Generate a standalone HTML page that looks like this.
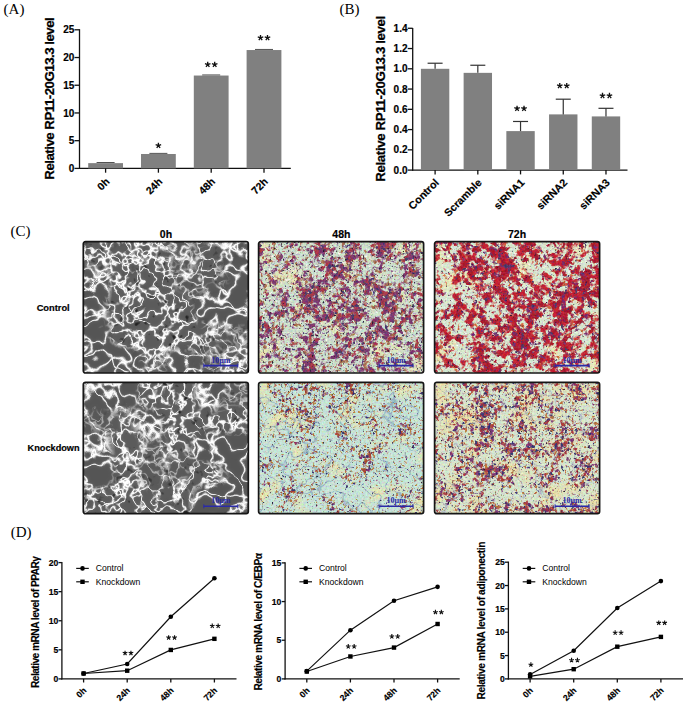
<!DOCTYPE html>
<html><head><meta charset="utf-8"><style>
html,body{margin:0;padding:0;background:#fff;}
svg{display:block;}
</style></head><body>
<svg width="685" height="706" viewBox="0 0 685 706">
<defs><filter id="f0" x="0" y="0" width="1" height="1" color-interpolation-filters="sRGB"><feGaussianBlur in="SourceGraphic" stdDeviation="7"/><feColorMatrix type="matrix" values="0 0 0 0 0  0 0 0 0 0  0 0 0 0 0  5 0 0 0 -2.0" result="mask"/><feTurbulence type="fractalNoise" baseFrequency="0.055" numOctaves="3" seed="7"/><feColorMatrix type="matrix" values="1 0 0 0 0  1 0 0 0 0  1 0 0 0 0  0 0 0 0 1"/><feComponentTransfer result="tA0"><feFuncR type="table" tableValues="0.38 0.38 0.38 0.38 0.38 0.38 0.38 0.38 0.38 0.38 0.38 0.38 0.38 0.38 0.38 0.38 0.38 0.38 0.38 0.38 0.38 0.38 0.38 0.38 0.38 0.38 0.38 0.38 0.38 0.38 0.38 0.38 0.38 0.38 0.379 0.379 0.378 0.376 0.374 0.37 0.365 0.358 0.35 0.345 0.353 0.388 0.47 0.611 0.786 0.939 1.0 0.939 0.786 0.611 0.47 0.388 0.353 0.345 0.35 0.358 0.365 0.37 0.374 0.376 0.378 0.379 0.379 0.38 0.38 0.38 0.38 0.38 0.38 0.38 0.38 0.38 0.38 0.38 0.38 0.38 0.38 0.38 0.38 0.38 0.38 0.38 0.38 0.38 0.38 0.38 0.38 0.38 0.38 0.38 0.38 0.38 0.38 0.38 0.38 0.38 0.38"/><feFuncG type="table" tableValues="0.38 0.38 0.38 0.38 0.38 0.38 0.38 0.38 0.38 0.38 0.38 0.38 0.38 0.38 0.38 0.38 0.38 0.38 0.38 0.38 0.38 0.38 0.38 0.38 0.38 0.38 0.38 0.38 0.38 0.38 0.38 0.38 0.38 0.38 0.379 0.379 0.378 0.376 0.374 0.37 0.365 0.358 0.35 0.345 0.353 0.388 0.47 0.611 0.786 0.939 1.0 0.939 0.786 0.611 0.47 0.388 0.353 0.345 0.35 0.358 0.365 0.37 0.374 0.376 0.378 0.379 0.379 0.38 0.38 0.38 0.38 0.38 0.38 0.38 0.38 0.38 0.38 0.38 0.38 0.38 0.38 0.38 0.38 0.38 0.38 0.38 0.38 0.38 0.38 0.38 0.38 0.38 0.38 0.38 0.38 0.38 0.38 0.38 0.38 0.38 0.38"/><feFuncB type="table" tableValues="0.38 0.38 0.38 0.38 0.38 0.38 0.38 0.38 0.38 0.38 0.38 0.38 0.38 0.38 0.38 0.38 0.38 0.38 0.38 0.38 0.38 0.38 0.38 0.38 0.38 0.38 0.38 0.38 0.38 0.38 0.38 0.38 0.38 0.38 0.379 0.379 0.378 0.376 0.374 0.37 0.365 0.358 0.35 0.345 0.353 0.388 0.47 0.611 0.786 0.939 1.0 0.939 0.786 0.611 0.47 0.388 0.353 0.345 0.35 0.358 0.365 0.37 0.374 0.376 0.378 0.379 0.379 0.38 0.38 0.38 0.38 0.38 0.38 0.38 0.38 0.38 0.38 0.38 0.38 0.38 0.38 0.38 0.38 0.38 0.38 0.38 0.38 0.38 0.38 0.38 0.38 0.38 0.38 0.38 0.38 0.38 0.38 0.38 0.38 0.38 0.38"/></feComponentTransfer><feTurbulence type="fractalNoise" baseFrequency="0.05" numOctaves="3" seed="9"/><feColorMatrix type="matrix" values="1 0 0 0 0  1 0 0 0 0  1 0 0 0 0  0 0 0 0 1"/><feComponentTransfer result="tA1"><feFuncR type="table" tableValues="0.38 0.38 0.38 0.38 0.38 0.38 0.38 0.38 0.38 0.38 0.38 0.38 0.38 0.38 0.38 0.38 0.38 0.38 0.38 0.38 0.38 0.38 0.38 0.38 0.38 0.38 0.38 0.38 0.38 0.38 0.38 0.38 0.38 0.38 0.379 0.379 0.378 0.376 0.374 0.37 0.365 0.358 0.35 0.345 0.353 0.388 0.47 0.611 0.786 0.939 1.0 0.939 0.786 0.611 0.47 0.388 0.353 0.345 0.35 0.358 0.365 0.37 0.374 0.376 0.378 0.379 0.379 0.38 0.38 0.38 0.38 0.38 0.38 0.38 0.38 0.38 0.38 0.38 0.38 0.38 0.38 0.38 0.38 0.38 0.38 0.38 0.38 0.38 0.38 0.38 0.38 0.38 0.38 0.38 0.38 0.38 0.38 0.38 0.38 0.38 0.38"/><feFuncG type="table" tableValues="0.38 0.38 0.38 0.38 0.38 0.38 0.38 0.38 0.38 0.38 0.38 0.38 0.38 0.38 0.38 0.38 0.38 0.38 0.38 0.38 0.38 0.38 0.38 0.38 0.38 0.38 0.38 0.38 0.38 0.38 0.38 0.38 0.38 0.38 0.379 0.379 0.378 0.376 0.374 0.37 0.365 0.358 0.35 0.345 0.353 0.388 0.47 0.611 0.786 0.939 1.0 0.939 0.786 0.611 0.47 0.388 0.353 0.345 0.35 0.358 0.365 0.37 0.374 0.376 0.378 0.379 0.379 0.38 0.38 0.38 0.38 0.38 0.38 0.38 0.38 0.38 0.38 0.38 0.38 0.38 0.38 0.38 0.38 0.38 0.38 0.38 0.38 0.38 0.38 0.38 0.38 0.38 0.38 0.38 0.38 0.38 0.38 0.38 0.38 0.38 0.38"/><feFuncB type="table" tableValues="0.38 0.38 0.38 0.38 0.38 0.38 0.38 0.38 0.38 0.38 0.38 0.38 0.38 0.38 0.38 0.38 0.38 0.38 0.38 0.38 0.38 0.38 0.38 0.38 0.38 0.38 0.38 0.38 0.38 0.38 0.38 0.38 0.38 0.38 0.379 0.379 0.378 0.376 0.374 0.37 0.365 0.358 0.35 0.345 0.353 0.388 0.47 0.611 0.786 0.939 1.0 0.939 0.786 0.611 0.47 0.388 0.353 0.345 0.35 0.358 0.365 0.37 0.374 0.376 0.378 0.379 0.379 0.38 0.38 0.38 0.38 0.38 0.38 0.38 0.38 0.38 0.38 0.38 0.38 0.38 0.38 0.38 0.38 0.38 0.38 0.38 0.38 0.38 0.38 0.38 0.38 0.38 0.38 0.38 0.38 0.38 0.38 0.38 0.38 0.38 0.38"/></feComponentTransfer><feBlend in="tA1" in2="tA0" mode="lighten" result="tA1"/><feMerge result="tA"><feMergeNode in="tA1"/></feMerge><feTurbulence type="fractalNoise" baseFrequency="0.035" numOctaves="3" seed="8"/><feColorMatrix type="matrix" values="1 0 0 0 0  1 0 0 0 0  1 0 0 0 0  0 0 0 0 1"/><feComponentTransfer result="tB0"><feFuncR type="table" tableValues="0.36 0.36 0.36 0.36 0.36 0.36 0.36 0.36 0.36 0.36 0.36 0.36 0.36 0.36 0.36 0.36 0.36 0.36 0.36 0.36 0.36 0.36 0.36 0.36 0.36 0.36 0.36 0.36 0.36 0.36 0.36 0.36 0.36 0.36 0.36 0.36 0.36 0.359 0.358 0.357 0.354 0.349 0.343 0.336 0.33 0.339 0.387 0.51 0.708 0.912 1.0 0.912 0.708 0.51 0.387 0.339 0.33 0.336 0.343 0.349 0.354 0.357 0.358 0.359 0.36 0.36 0.36 0.36 0.36 0.36 0.36 0.36 0.36 0.36 0.36 0.36 0.36 0.36 0.36 0.36 0.36 0.36 0.36 0.36 0.36 0.36 0.36 0.36 0.36 0.36 0.36 0.36 0.36 0.36 0.36 0.36 0.36 0.36 0.36 0.36 0.36"/><feFuncG type="table" tableValues="0.36 0.36 0.36 0.36 0.36 0.36 0.36 0.36 0.36 0.36 0.36 0.36 0.36 0.36 0.36 0.36 0.36 0.36 0.36 0.36 0.36 0.36 0.36 0.36 0.36 0.36 0.36 0.36 0.36 0.36 0.36 0.36 0.36 0.36 0.36 0.36 0.36 0.359 0.358 0.357 0.354 0.349 0.343 0.336 0.33 0.339 0.387 0.51 0.708 0.912 1.0 0.912 0.708 0.51 0.387 0.339 0.33 0.336 0.343 0.349 0.354 0.357 0.358 0.359 0.36 0.36 0.36 0.36 0.36 0.36 0.36 0.36 0.36 0.36 0.36 0.36 0.36 0.36 0.36 0.36 0.36 0.36 0.36 0.36 0.36 0.36 0.36 0.36 0.36 0.36 0.36 0.36 0.36 0.36 0.36 0.36 0.36 0.36 0.36 0.36 0.36"/><feFuncB type="table" tableValues="0.36 0.36 0.36 0.36 0.36 0.36 0.36 0.36 0.36 0.36 0.36 0.36 0.36 0.36 0.36 0.36 0.36 0.36 0.36 0.36 0.36 0.36 0.36 0.36 0.36 0.36 0.36 0.36 0.36 0.36 0.36 0.36 0.36 0.36 0.36 0.36 0.36 0.359 0.358 0.357 0.354 0.349 0.343 0.336 0.33 0.339 0.387 0.51 0.708 0.912 1.0 0.912 0.708 0.51 0.387 0.339 0.33 0.336 0.343 0.349 0.354 0.357 0.358 0.359 0.36 0.36 0.36 0.36 0.36 0.36 0.36 0.36 0.36 0.36 0.36 0.36 0.36 0.36 0.36 0.36 0.36 0.36 0.36 0.36 0.36 0.36 0.36 0.36 0.36 0.36 0.36 0.36 0.36 0.36 0.36 0.36 0.36 0.36 0.36 0.36 0.36"/></feComponentTransfer><feTurbulence type="fractalNoise" baseFrequency="0.03" numOctaves="3" seed="11"/><feColorMatrix type="matrix" values="1 0 0 0 0  1 0 0 0 0  1 0 0 0 0  0 0 0 0 1"/><feComponentTransfer result="tB1"><feFuncR type="table" tableValues="0.36 0.36 0.36 0.36 0.36 0.36 0.36 0.36 0.36 0.36 0.36 0.36 0.36 0.36 0.36 0.36 0.36 0.36 0.36 0.36 0.36 0.36 0.36 0.36 0.36 0.36 0.36 0.36 0.36 0.36 0.36 0.36 0.36 0.36 0.36 0.36 0.36 0.359 0.358 0.357 0.354 0.349 0.343 0.336 0.33 0.339 0.387 0.51 0.708 0.912 1.0 0.912 0.708 0.51 0.387 0.339 0.33 0.336 0.343 0.349 0.354 0.357 0.358 0.359 0.36 0.36 0.36 0.36 0.36 0.36 0.36 0.36 0.36 0.36 0.36 0.36 0.36 0.36 0.36 0.36 0.36 0.36 0.36 0.36 0.36 0.36 0.36 0.36 0.36 0.36 0.36 0.36 0.36 0.36 0.36 0.36 0.36 0.36 0.36 0.36 0.36"/><feFuncG type="table" tableValues="0.36 0.36 0.36 0.36 0.36 0.36 0.36 0.36 0.36 0.36 0.36 0.36 0.36 0.36 0.36 0.36 0.36 0.36 0.36 0.36 0.36 0.36 0.36 0.36 0.36 0.36 0.36 0.36 0.36 0.36 0.36 0.36 0.36 0.36 0.36 0.36 0.36 0.359 0.358 0.357 0.354 0.349 0.343 0.336 0.33 0.339 0.387 0.51 0.708 0.912 1.0 0.912 0.708 0.51 0.387 0.339 0.33 0.336 0.343 0.349 0.354 0.357 0.358 0.359 0.36 0.36 0.36 0.36 0.36 0.36 0.36 0.36 0.36 0.36 0.36 0.36 0.36 0.36 0.36 0.36 0.36 0.36 0.36 0.36 0.36 0.36 0.36 0.36 0.36 0.36 0.36 0.36 0.36 0.36 0.36 0.36 0.36 0.36 0.36 0.36 0.36"/><feFuncB type="table" tableValues="0.36 0.36 0.36 0.36 0.36 0.36 0.36 0.36 0.36 0.36 0.36 0.36 0.36 0.36 0.36 0.36 0.36 0.36 0.36 0.36 0.36 0.36 0.36 0.36 0.36 0.36 0.36 0.36 0.36 0.36 0.36 0.36 0.36 0.36 0.36 0.36 0.36 0.359 0.358 0.357 0.354 0.349 0.343 0.336 0.33 0.339 0.387 0.51 0.708 0.912 1.0 0.912 0.708 0.51 0.387 0.339 0.33 0.336 0.343 0.349 0.354 0.357 0.358 0.359 0.36 0.36 0.36 0.36 0.36 0.36 0.36 0.36 0.36 0.36 0.36 0.36 0.36 0.36 0.36 0.36 0.36 0.36 0.36 0.36 0.36 0.36 0.36 0.36 0.36 0.36 0.36 0.36 0.36 0.36 0.36 0.36 0.36 0.36 0.36 0.36 0.36"/></feComponentTransfer><feBlend in="tB1" in2="tB0" mode="lighten" result="tB1"/><feMerge result="tB"><feMergeNode in="tB1"/></feMerge><feComposite in="tA" in2="mask" operator="in" result="tAm"/><feTurbulence type="fractalNoise" baseFrequency="0.14" numOctaves="2" seed="77"/><feColorMatrix type="matrix" values="0 0 0 0 0.15  0 0 0 0 0.15  0 0 0 0 0.15  6 0 0 0 -3.96"/><feComposite in2="mask" operator="in" result="dk"/><feMerge result="mix"><feMergeNode in="tB"/><feMergeNode in="tAm"/><feMergeNode in="dk"/></feMerge><feGaussianBlur in="mix" stdDeviation="1.5" result="gl"/><feComposite in="mix" in2="gl" operator="arithmetic" k2="0.9" k3="0.22" k4="-0.065" result="mix"/><feGaussianBlur stdDeviation="0.45"/></filter><filter id="f1" x="0" y="0" width="1" height="1" color-interpolation-filters="sRGB"><feGaussianBlur in="SourceGraphic" stdDeviation="9"/><feColorMatrix type="matrix" values="1 0 0 0 0  1 0 0 0 0  1 0 0 0 0  0 0 0 0 1" result="sg"/><feTurbulence type="fractalNoise" baseFrequency="0.05" numOctaves="2" seed="21"/><feColorMatrix type="matrix" values="1 0 0 0 0  1 0 0 0 0  1 0 0 0 0  0 0 0 0 1" result="dn"/><feComposite in="sg" in2="dn" operator="arithmetic" k2="0.5" k3="0.6" k4="-0.050" result="dens"/><feFlood flood-color="#cce0cc" result="bg"/><feTurbulence type="fractalNoise" baseFrequency="0.04" numOctaves="2" seed="11"/><feColorMatrix type="matrix" values="0 0 0 0 0.902  0 0 0 0 0.894  0 0 0 0 0.69  4 0 0 0 -2.2" result="yel"/><feTurbulence type="fractalNoise" baseFrequency="0.3" numOctaves="2" seed="5"/><feColorMatrix type="matrix" values="1 0 0 0 0  1 0 0 0 0  1 0 0 0 0  0 0 0 0 1" result="c0n"/><feColorMatrix in="c0n" type="matrix" values="0 0 0 0 0.949  0 0 0 0 0.941  0 0 0 0 0.918  8 0 0 0 -5.12" result="c0"/><feTurbulence type="fractalNoise" baseFrequency="0.35" numOctaves="2" seed="8"/><feColorMatrix type="matrix" values="1 0 0 0 0  1 0 0 0 0  1 0 0 0 0  0 0 0 0 1" result="c1n"/><feColorMatrix in="c1n" type="matrix" values="0 0 0 0 0.753  0 0 0 0 0.659  0 0 0 0 0.769  8 0 0 0 -4.96" result="c1"/><feTurbulence type="fractalNoise" baseFrequency="0.22" numOctaves="2" seed="4"/><feColorMatrix type="matrix" values="1 0 0 0 0  1 0 0 0 0  1 0 0 0 0  0 0 0 0 1" result="c2n"/><feComposite in="c2n" in2="dens" operator="arithmetic" k2="1" k3="0.5" k4="-0.25" result="c2m"/><feColorMatrix in="c2m" type="matrix" values="0 0 0 0 0.659  0 0 0 0 0.439  0 0 0 0 0.314  8 0 0 0 -4.6" result="c2"/><feTurbulence type="fractalNoise" baseFrequency="0.16" numOctaves="3" seed="1"/><feColorMatrix type="matrix" values="1 0 0 0 0  1 0 0 0 0  1 0 0 0 0  0 0 0 0 1" result="c3n"/><feComposite in="c3n" in2="dens" operator="arithmetic" k2="1" k3="0.9" k4="-0.45" result="c3m"/><feColorMatrix in="c3m" type="matrix" values="0 0 0 0 0.494  0 0 0 0 0.227  0 0 0 0 0.439  7 0 0 0 -3.7800000000000002" result="c3"/><feTurbulence type="fractalNoise" baseFrequency="0.18" numOctaves="3" seed="2"/><feColorMatrix type="matrix" values="1 0 0 0 0  1 0 0 0 0  1 0 0 0 0  0 0 0 0 1" result="c4n"/><feComposite in="c4n" in2="dens" operator="arithmetic" k2="1" k3="0.9" k4="-0.45" result="c4m"/><feColorMatrix in="c4m" type="matrix" values="0 0 0 0 0.659  0 0 0 0 0.227  0 0 0 0 0.29  7 0 0 0 -4.165" result="c4"/><feTurbulence type="fractalNoise" baseFrequency="0.3" numOctaves="2" seed="3"/><feColorMatrix type="matrix" values="1 0 0 0 0  1 0 0 0 0  1 0 0 0 0  0 0 0 0 1" result="c5n"/><feComposite in="c5n" in2="dens" operator="arithmetic" k2="1" k3="0.6" k4="-0.3" result="c5m"/><feColorMatrix in="c5m" type="matrix" values="0 0 0 0 0.29  0 0 0 0 0.243  0 0 0 0 0.424  8 0 0 0 -5.2" result="c5"/><feTurbulence type="fractalNoise" baseFrequency="0.45" numOctaves="1" seed="7"/><feColorMatrix type="matrix" values="1 0 0 0 0  1 0 0 0 0  1 0 0 0 0  0 0 0 0 1" result="c6n"/><feColorMatrix in="c6n" type="matrix" values="0 0 0 0 0.165  0 0 0 0 0.102  0 0 0 0 0.188  8 0 0 0 -5.12" result="c6"/><feMerge result="img"><feMergeNode in="bg"/><feMergeNode in="yel"/><feMergeNode in="c0"/><feMergeNode in="c1"/><feMergeNode in="c2"/><feMergeNode in="c3"/><feMergeNode in="c4"/><feMergeNode in="c5"/><feMergeNode in="c6"/></feMerge><feTurbulence type="fractalNoise" baseFrequency="0.55" numOctaves="1" seed="28"/><feColorMatrix type="matrix" values="1 0 0 0 0  0 1 0 0 0  0 0 1 0 0  0 0 0 0 1" result="cn"/><feComposite in="img" in2="cn" operator="arithmetic" k2="1" k3="0.3" k4="-0.15"/><feGaussianBlur stdDeviation="0.7"/></filter><filter id="f2" x="0" y="0" width="1" height="1" color-interpolation-filters="sRGB"><feGaussianBlur in="SourceGraphic" stdDeviation="9"/><feColorMatrix type="matrix" values="1 0 0 0 0  1 0 0 0 0  1 0 0 0 0  0 0 0 0 1" result="sg"/><feTurbulence type="fractalNoise" baseFrequency="0.05" numOctaves="2" seed="31"/><feColorMatrix type="matrix" values="1 0 0 0 0  1 0 0 0 0  1 0 0 0 0  0 0 0 0 1" result="dn"/><feComposite in="sg" in2="dn" operator="arithmetic" k2="0.5" k3="0.6" k4="-0.050" result="dens"/><feFlood flood-color="#d6e6d0" result="bg"/><feTurbulence type="fractalNoise" baseFrequency="0.04" numOctaves="2" seed="11"/><feColorMatrix type="matrix" values="0 0 0 0 0.918  0 0 0 0 0.902  0 0 0 0 0.69  4 0 0 0 -2.2" result="yel"/><feTurbulence type="fractalNoise" baseFrequency="0.3" numOctaves="2" seed="5"/><feColorMatrix type="matrix" values="1 0 0 0 0  1 0 0 0 0  1 0 0 0 0  0 0 0 0 1" result="c0n"/><feColorMatrix in="c0n" type="matrix" values="0 0 0 0 0.949  0 0 0 0 0.941  0 0 0 0 0.918  8 0 0 0 -5.12" result="c0"/><feTurbulence type="fractalNoise" baseFrequency="0.22" numOctaves="2" seed="4"/><feColorMatrix type="matrix" values="1 0 0 0 0  1 0 0 0 0  1 0 0 0 0  0 0 0 0 1" result="c1n"/><feComposite in="c1n" in2="dens" operator="arithmetic" k2="1" k3="0.5" k4="-0.25" result="c1m"/><feColorMatrix in="c1m" type="matrix" values="0 0 0 0 0.816  0 0 0 0 0.416  0 0 0 0 0.267  8 0 0 0 -4.8" result="c1"/><feTurbulence type="fractalNoise" baseFrequency="0.12" numOctaves="3" seed="1"/><feColorMatrix type="matrix" values="1 0 0 0 0  1 0 0 0 0  1 0 0 0 0  0 0 0 0 1" result="c2n"/><feComposite in="c2n" in2="dens" operator="arithmetic" k2="1" k3="1.0" k4="-0.5" result="c2m"/><feColorMatrix in="c2m" type="matrix" values="0 0 0 0 0.769  0 0 0 0 0.141  0 0 0 0 0.204  7 0 0 0 -3.64" result="c2"/><feTurbulence type="fractalNoise" baseFrequency="0.18" numOctaves="3" seed="2"/><feColorMatrix type="matrix" values="1 0 0 0 0  1 0 0 0 0  1 0 0 0 0  0 0 0 0 1" result="c3n"/><feComposite in="c3n" in2="dens" operator="arithmetic" k2="1" k3="0.9" k4="-0.45" result="c3m"/><feColorMatrix in="c3m" type="matrix" values="0 0 0 0 0.659  0 0 0 0 0.11  0 0 0 0 0.188  7 0 0 0 -3.8500000000000005" result="c3"/><feTurbulence type="fractalNoise" baseFrequency="0.22" numOctaves="3" seed="6"/><feColorMatrix type="matrix" values="1 0 0 0 0  1 0 0 0 0  1 0 0 0 0  0 0 0 0 1" result="c4n"/><feComposite in="c4n" in2="dens" operator="arithmetic" k2="1" k3="0.6" k4="-0.3" result="c4m"/><feColorMatrix in="c4m" type="matrix" values="0 0 0 0 0.478  0 0 0 0 0.188  0 0 0 0 0.439  7 0 0 0 -4.48" result="c4"/><feTurbulence type="fractalNoise" baseFrequency="0.3" numOctaves="2" seed="3"/><feColorMatrix type="matrix" values="1 0 0 0 0  1 0 0 0 0  1 0 0 0 0  0 0 0 0 1" result="c5n"/><feComposite in="c5n" in2="dens" operator="arithmetic" k2="1" k3="0.5" k4="-0.25" result="c5m"/><feColorMatrix in="c5m" type="matrix" values="0 0 0 0 0.29  0 0 0 0 0.227  0 0 0 0 0.416  8 0 0 0 -5.44" result="c5"/><feTurbulence type="fractalNoise" baseFrequency="0.45" numOctaves="1" seed="7"/><feColorMatrix type="matrix" values="1 0 0 0 0  1 0 0 0 0  1 0 0 0 0  0 0 0 0 1" result="c6n"/><feColorMatrix in="c6n" type="matrix" values="0 0 0 0 0.165  0 0 0 0 0.102  0 0 0 0 0.188  8 0 0 0 -5.36" result="c6"/><feMerge result="img"><feMergeNode in="bg"/><feMergeNode in="yel"/><feMergeNode in="c0"/><feMergeNode in="c1"/><feMergeNode in="c2"/><feMergeNode in="c3"/><feMergeNode in="c4"/><feMergeNode in="c5"/><feMergeNode in="c6"/></feMerge><feTurbulence type="fractalNoise" baseFrequency="0.55" numOctaves="1" seed="38"/><feColorMatrix type="matrix" values="1 0 0 0 0  0 1 0 0 0  0 0 1 0 0  0 0 0 0 1" result="cn"/><feComposite in="img" in2="cn" operator="arithmetic" k2="1" k3="0.3" k4="-0.15"/><feGaussianBlur stdDeviation="0.7"/></filter><filter id="f3" x="0" y="0" width="1" height="1" color-interpolation-filters="sRGB"><feGaussianBlur in="SourceGraphic" stdDeviation="7"/><feColorMatrix type="matrix" values="0 0 0 0 0  0 0 0 0 0  0 0 0 0 0  5 0 0 0 -2.0" result="mask"/><feTurbulence type="fractalNoise" baseFrequency="0.055" numOctaves="3" seed="19"/><feColorMatrix type="matrix" values="1 0 0 0 0  1 0 0 0 0  1 0 0 0 0  0 0 0 0 1"/><feComponentTransfer result="tA0"><feFuncR type="table" tableValues="0.38 0.38 0.38 0.38 0.38 0.38 0.38 0.38 0.38 0.38 0.38 0.38 0.38 0.38 0.38 0.38 0.38 0.38 0.38 0.38 0.38 0.38 0.38 0.38 0.38 0.38 0.38 0.38 0.38 0.38 0.38 0.38 0.38 0.38 0.379 0.379 0.378 0.376 0.374 0.37 0.365 0.358 0.35 0.345 0.353 0.388 0.47 0.611 0.786 0.939 1.0 0.939 0.786 0.611 0.47 0.388 0.353 0.345 0.35 0.358 0.365 0.37 0.374 0.376 0.378 0.379 0.379 0.38 0.38 0.38 0.38 0.38 0.38 0.38 0.38 0.38 0.38 0.38 0.38 0.38 0.38 0.38 0.38 0.38 0.38 0.38 0.38 0.38 0.38 0.38 0.38 0.38 0.38 0.38 0.38 0.38 0.38 0.38 0.38 0.38 0.38"/><feFuncG type="table" tableValues="0.38 0.38 0.38 0.38 0.38 0.38 0.38 0.38 0.38 0.38 0.38 0.38 0.38 0.38 0.38 0.38 0.38 0.38 0.38 0.38 0.38 0.38 0.38 0.38 0.38 0.38 0.38 0.38 0.38 0.38 0.38 0.38 0.38 0.38 0.379 0.379 0.378 0.376 0.374 0.37 0.365 0.358 0.35 0.345 0.353 0.388 0.47 0.611 0.786 0.939 1.0 0.939 0.786 0.611 0.47 0.388 0.353 0.345 0.35 0.358 0.365 0.37 0.374 0.376 0.378 0.379 0.379 0.38 0.38 0.38 0.38 0.38 0.38 0.38 0.38 0.38 0.38 0.38 0.38 0.38 0.38 0.38 0.38 0.38 0.38 0.38 0.38 0.38 0.38 0.38 0.38 0.38 0.38 0.38 0.38 0.38 0.38 0.38 0.38 0.38 0.38"/><feFuncB type="table" tableValues="0.38 0.38 0.38 0.38 0.38 0.38 0.38 0.38 0.38 0.38 0.38 0.38 0.38 0.38 0.38 0.38 0.38 0.38 0.38 0.38 0.38 0.38 0.38 0.38 0.38 0.38 0.38 0.38 0.38 0.38 0.38 0.38 0.38 0.38 0.379 0.379 0.378 0.376 0.374 0.37 0.365 0.358 0.35 0.345 0.353 0.388 0.47 0.611 0.786 0.939 1.0 0.939 0.786 0.611 0.47 0.388 0.353 0.345 0.35 0.358 0.365 0.37 0.374 0.376 0.378 0.379 0.379 0.38 0.38 0.38 0.38 0.38 0.38 0.38 0.38 0.38 0.38 0.38 0.38 0.38 0.38 0.38 0.38 0.38 0.38 0.38 0.38 0.38 0.38 0.38 0.38 0.38 0.38 0.38 0.38 0.38 0.38 0.38 0.38 0.38 0.38"/></feComponentTransfer><feTurbulence type="fractalNoise" baseFrequency="0.05" numOctaves="3" seed="21"/><feColorMatrix type="matrix" values="1 0 0 0 0  1 0 0 0 0  1 0 0 0 0  0 0 0 0 1"/><feComponentTransfer result="tA1"><feFuncR type="table" tableValues="0.38 0.38 0.38 0.38 0.38 0.38 0.38 0.38 0.38 0.38 0.38 0.38 0.38 0.38 0.38 0.38 0.38 0.38 0.38 0.38 0.38 0.38 0.38 0.38 0.38 0.38 0.38 0.38 0.38 0.38 0.38 0.38 0.38 0.38 0.379 0.379 0.378 0.376 0.374 0.37 0.365 0.358 0.35 0.345 0.353 0.388 0.47 0.611 0.786 0.939 1.0 0.939 0.786 0.611 0.47 0.388 0.353 0.345 0.35 0.358 0.365 0.37 0.374 0.376 0.378 0.379 0.379 0.38 0.38 0.38 0.38 0.38 0.38 0.38 0.38 0.38 0.38 0.38 0.38 0.38 0.38 0.38 0.38 0.38 0.38 0.38 0.38 0.38 0.38 0.38 0.38 0.38 0.38 0.38 0.38 0.38 0.38 0.38 0.38 0.38 0.38"/><feFuncG type="table" tableValues="0.38 0.38 0.38 0.38 0.38 0.38 0.38 0.38 0.38 0.38 0.38 0.38 0.38 0.38 0.38 0.38 0.38 0.38 0.38 0.38 0.38 0.38 0.38 0.38 0.38 0.38 0.38 0.38 0.38 0.38 0.38 0.38 0.38 0.38 0.379 0.379 0.378 0.376 0.374 0.37 0.365 0.358 0.35 0.345 0.353 0.388 0.47 0.611 0.786 0.939 1.0 0.939 0.786 0.611 0.47 0.388 0.353 0.345 0.35 0.358 0.365 0.37 0.374 0.376 0.378 0.379 0.379 0.38 0.38 0.38 0.38 0.38 0.38 0.38 0.38 0.38 0.38 0.38 0.38 0.38 0.38 0.38 0.38 0.38 0.38 0.38 0.38 0.38 0.38 0.38 0.38 0.38 0.38 0.38 0.38 0.38 0.38 0.38 0.38 0.38 0.38"/><feFuncB type="table" tableValues="0.38 0.38 0.38 0.38 0.38 0.38 0.38 0.38 0.38 0.38 0.38 0.38 0.38 0.38 0.38 0.38 0.38 0.38 0.38 0.38 0.38 0.38 0.38 0.38 0.38 0.38 0.38 0.38 0.38 0.38 0.38 0.38 0.38 0.38 0.379 0.379 0.378 0.376 0.374 0.37 0.365 0.358 0.35 0.345 0.353 0.388 0.47 0.611 0.786 0.939 1.0 0.939 0.786 0.611 0.47 0.388 0.353 0.345 0.35 0.358 0.365 0.37 0.374 0.376 0.378 0.379 0.379 0.38 0.38 0.38 0.38 0.38 0.38 0.38 0.38 0.38 0.38 0.38 0.38 0.38 0.38 0.38 0.38 0.38 0.38 0.38 0.38 0.38 0.38 0.38 0.38 0.38 0.38 0.38 0.38 0.38 0.38 0.38 0.38 0.38 0.38"/></feComponentTransfer><feBlend in="tA1" in2="tA0" mode="lighten" result="tA1"/><feMerge result="tA"><feMergeNode in="tA1"/></feMerge><feTurbulence type="fractalNoise" baseFrequency="0.035" numOctaves="3" seed="20"/><feColorMatrix type="matrix" values="1 0 0 0 0  1 0 0 0 0  1 0 0 0 0  0 0 0 0 1"/><feComponentTransfer result="tB0"><feFuncR type="table" tableValues="0.36 0.36 0.36 0.36 0.36 0.36 0.36 0.36 0.36 0.36 0.36 0.36 0.36 0.36 0.36 0.36 0.36 0.36 0.36 0.36 0.36 0.36 0.36 0.36 0.36 0.36 0.36 0.36 0.36 0.36 0.36 0.36 0.36 0.36 0.36 0.36 0.36 0.359 0.358 0.357 0.354 0.349 0.343 0.336 0.33 0.339 0.387 0.51 0.708 0.912 1.0 0.912 0.708 0.51 0.387 0.339 0.33 0.336 0.343 0.349 0.354 0.357 0.358 0.359 0.36 0.36 0.36 0.36 0.36 0.36 0.36 0.36 0.36 0.36 0.36 0.36 0.36 0.36 0.36 0.36 0.36 0.36 0.36 0.36 0.36 0.36 0.36 0.36 0.36 0.36 0.36 0.36 0.36 0.36 0.36 0.36 0.36 0.36 0.36 0.36 0.36"/><feFuncG type="table" tableValues="0.36 0.36 0.36 0.36 0.36 0.36 0.36 0.36 0.36 0.36 0.36 0.36 0.36 0.36 0.36 0.36 0.36 0.36 0.36 0.36 0.36 0.36 0.36 0.36 0.36 0.36 0.36 0.36 0.36 0.36 0.36 0.36 0.36 0.36 0.36 0.36 0.36 0.359 0.358 0.357 0.354 0.349 0.343 0.336 0.33 0.339 0.387 0.51 0.708 0.912 1.0 0.912 0.708 0.51 0.387 0.339 0.33 0.336 0.343 0.349 0.354 0.357 0.358 0.359 0.36 0.36 0.36 0.36 0.36 0.36 0.36 0.36 0.36 0.36 0.36 0.36 0.36 0.36 0.36 0.36 0.36 0.36 0.36 0.36 0.36 0.36 0.36 0.36 0.36 0.36 0.36 0.36 0.36 0.36 0.36 0.36 0.36 0.36 0.36 0.36 0.36"/><feFuncB type="table" tableValues="0.36 0.36 0.36 0.36 0.36 0.36 0.36 0.36 0.36 0.36 0.36 0.36 0.36 0.36 0.36 0.36 0.36 0.36 0.36 0.36 0.36 0.36 0.36 0.36 0.36 0.36 0.36 0.36 0.36 0.36 0.36 0.36 0.36 0.36 0.36 0.36 0.36 0.359 0.358 0.357 0.354 0.349 0.343 0.336 0.33 0.339 0.387 0.51 0.708 0.912 1.0 0.912 0.708 0.51 0.387 0.339 0.33 0.336 0.343 0.349 0.354 0.357 0.358 0.359 0.36 0.36 0.36 0.36 0.36 0.36 0.36 0.36 0.36 0.36 0.36 0.36 0.36 0.36 0.36 0.36 0.36 0.36 0.36 0.36 0.36 0.36 0.36 0.36 0.36 0.36 0.36 0.36 0.36 0.36 0.36 0.36 0.36 0.36 0.36 0.36 0.36"/></feComponentTransfer><feTurbulence type="fractalNoise" baseFrequency="0.03" numOctaves="3" seed="23"/><feColorMatrix type="matrix" values="1 0 0 0 0  1 0 0 0 0  1 0 0 0 0  0 0 0 0 1"/><feComponentTransfer result="tB1"><feFuncR type="table" tableValues="0.36 0.36 0.36 0.36 0.36 0.36 0.36 0.36 0.36 0.36 0.36 0.36 0.36 0.36 0.36 0.36 0.36 0.36 0.36 0.36 0.36 0.36 0.36 0.36 0.36 0.36 0.36 0.36 0.36 0.36 0.36 0.36 0.36 0.36 0.36 0.36 0.36 0.359 0.358 0.357 0.354 0.349 0.343 0.336 0.33 0.339 0.387 0.51 0.708 0.912 1.0 0.912 0.708 0.51 0.387 0.339 0.33 0.336 0.343 0.349 0.354 0.357 0.358 0.359 0.36 0.36 0.36 0.36 0.36 0.36 0.36 0.36 0.36 0.36 0.36 0.36 0.36 0.36 0.36 0.36 0.36 0.36 0.36 0.36 0.36 0.36 0.36 0.36 0.36 0.36 0.36 0.36 0.36 0.36 0.36 0.36 0.36 0.36 0.36 0.36 0.36"/><feFuncG type="table" tableValues="0.36 0.36 0.36 0.36 0.36 0.36 0.36 0.36 0.36 0.36 0.36 0.36 0.36 0.36 0.36 0.36 0.36 0.36 0.36 0.36 0.36 0.36 0.36 0.36 0.36 0.36 0.36 0.36 0.36 0.36 0.36 0.36 0.36 0.36 0.36 0.36 0.36 0.359 0.358 0.357 0.354 0.349 0.343 0.336 0.33 0.339 0.387 0.51 0.708 0.912 1.0 0.912 0.708 0.51 0.387 0.339 0.33 0.336 0.343 0.349 0.354 0.357 0.358 0.359 0.36 0.36 0.36 0.36 0.36 0.36 0.36 0.36 0.36 0.36 0.36 0.36 0.36 0.36 0.36 0.36 0.36 0.36 0.36 0.36 0.36 0.36 0.36 0.36 0.36 0.36 0.36 0.36 0.36 0.36 0.36 0.36 0.36 0.36 0.36 0.36 0.36"/><feFuncB type="table" tableValues="0.36 0.36 0.36 0.36 0.36 0.36 0.36 0.36 0.36 0.36 0.36 0.36 0.36 0.36 0.36 0.36 0.36 0.36 0.36 0.36 0.36 0.36 0.36 0.36 0.36 0.36 0.36 0.36 0.36 0.36 0.36 0.36 0.36 0.36 0.36 0.36 0.36 0.359 0.358 0.357 0.354 0.349 0.343 0.336 0.33 0.339 0.387 0.51 0.708 0.912 1.0 0.912 0.708 0.51 0.387 0.339 0.33 0.336 0.343 0.349 0.354 0.357 0.358 0.359 0.36 0.36 0.36 0.36 0.36 0.36 0.36 0.36 0.36 0.36 0.36 0.36 0.36 0.36 0.36 0.36 0.36 0.36 0.36 0.36 0.36 0.36 0.36 0.36 0.36 0.36 0.36 0.36 0.36 0.36 0.36 0.36 0.36 0.36 0.36 0.36 0.36"/></feComponentTransfer><feBlend in="tB1" in2="tB0" mode="lighten" result="tB1"/><feMerge result="tB"><feMergeNode in="tB1"/></feMerge><feComposite in="tA" in2="mask" operator="in" result="tAm"/><feTurbulence type="fractalNoise" baseFrequency="0.14" numOctaves="2" seed="78"/><feColorMatrix type="matrix" values="0 0 0 0 0.15  0 0 0 0 0.15  0 0 0 0 0.15  6 0 0 0 -3.96"/><feComposite in2="mask" operator="in" result="dk"/><feMerge result="mix"><feMergeNode in="tB"/><feMergeNode in="tAm"/><feMergeNode in="dk"/></feMerge><feGaussianBlur in="mix" stdDeviation="1.5" result="gl"/><feComposite in="mix" in2="gl" operator="arithmetic" k2="0.9" k3="0.22" k4="-0.065" result="mix"/><feGaussianBlur stdDeviation="0.45"/></filter><filter id="f4" x="0" y="0" width="1" height="1" color-interpolation-filters="sRGB"><feGaussianBlur in="SourceGraphic" stdDeviation="9"/><feColorMatrix type="matrix" values="1 0 0 0 0  1 0 0 0 0  1 0 0 0 0  0 0 0 0 1" result="sg"/><feTurbulence type="fractalNoise" baseFrequency="0.05" numOctaves="2" seed="41"/><feColorMatrix type="matrix" values="1 0 0 0 0  1 0 0 0 0  1 0 0 0 0  0 0 0 0 1" result="dn"/><feComposite in="sg" in2="dn" operator="arithmetic" k2="0.5" k3="0.6" k4="-0.050" result="dens"/><feFlood flood-color="#c6e2d6" result="bg"/><feTurbulence type="fractalNoise" baseFrequency="0.04" numOctaves="2" seed="11"/><feColorMatrix type="matrix" values="0 0 0 0 0.902  0 0 0 0 0.894  0 0 0 0 0.69  4 0 0 0 -2.2" result="yel"/><feTurbulence type="fractalNoise" baseFrequency="0.035" numOctaves="3" seed="61"/><feColorMatrix type="matrix" values="0 0 0 0 0.478  0 0 0 0 0.596  0 0 0 0 0.722  1 0 0 0 0"/><feComponentTransfer result="net"><feFuncA type="table" tableValues="0.0 0.0 0.0 0.0 0.0 0.0 0.0 0.0 0.0 0.0 0.0 0.0 0.0 0.0 0.0 0.0 0.0 0.0 0.0 0.0 0.0 0.0 0.0 0.0 0.0 0.0 0.0 0.0 0.0 0.0 0.0 0.0 0.0 0.0 0.0 0.0 0.0 0.0 0.0 0.0 0.0 0.0 0.0 0.0 0.0 0.0 0.0 0.001 0.043 0.349 0.7 0.349 0.043 0.001 0.0 0.0 0.0 0.0 0.0 0.0 0.0 0.0 0.0 0.0 0.0 0.0 0.0 0.0 0.0 0.0 0.0 0.0 0.0 0.0 0.0 0.0 0.0 0.0 0.0 0.0 0.0 0.0 0.0 0.0 0.0 0.0 0.0 0.0 0.0 0.0 0.0 0.0 0.0 0.0 0.0 0.0 0.0 0.0 0.0 0.0 0.0"/></feComponentTransfer><feTurbulence type="fractalNoise" baseFrequency="0.35" numOctaves="2" seed="4"/><feColorMatrix type="matrix" values="1 0 0 0 0  1 0 0 0 0  1 0 0 0 0  0 0 0 0 1" result="c0n"/><feComposite in="c0n" in2="dens" operator="arithmetic" k2="1" k3="0.6" k4="-0.3" result="c0m"/><feColorMatrix in="c0m" type="matrix" values="0 0 0 0 0.722  0 0 0 0 0.502  0 0 0 0 0.251  8 0 0 0 -4.96" result="c0"/><feTurbulence type="fractalNoise" baseFrequency="0.22" numOctaves="3" seed="1"/><feColorMatrix type="matrix" values="1 0 0 0 0  1 0 0 0 0  1 0 0 0 0  0 0 0 0 1" result="c1n"/><feComposite in="c1n" in2="dens" operator="arithmetic" k2="1" k3="0.8" k4="-0.4" result="c1m"/><feColorMatrix in="c1m" type="matrix" values="0 0 0 0 0.494  0 0 0 0 0.227  0 0 0 0 0.455  7 0 0 0 -4.7250000000000005" result="c1"/><feTurbulence type="fractalNoise" baseFrequency="0.22" numOctaves="3" seed="2"/><feColorMatrix type="matrix" values="1 0 0 0 0  1 0 0 0 0  1 0 0 0 0  0 0 0 0 1" result="c2n"/><feComposite in="c2n" in2="dens" operator="arithmetic" k2="1" k3="0.8" k4="-0.4" result="c2m"/><feColorMatrix in="c2m" type="matrix" values="0 0 0 0 0.659  0 0 0 0 0.282  0 0 0 0 0.22  7 0 0 0 -4.7250000000000005" result="c2"/><feTurbulence type="fractalNoise" baseFrequency="0.3" numOctaves="2" seed="3"/><feColorMatrix type="matrix" values="1 0 0 0 0  1 0 0 0 0  1 0 0 0 0  0 0 0 0 1" result="c3n"/><feComposite in="c3n" in2="dens" operator="arithmetic" k2="1" k3="0.5" k4="-0.25" result="c3m"/><feColorMatrix in="c3m" type="matrix" values="0 0 0 0 0.235  0 0 0 0 0.227  0 0 0 0 0.447  8 0 0 0 -5.4" result="c3"/><feTurbulence type="fractalNoise" baseFrequency="0.45" numOctaves="1" seed="7"/><feColorMatrix type="matrix" values="1 0 0 0 0  1 0 0 0 0  1 0 0 0 0  0 0 0 0 1" result="c4n"/><feColorMatrix in="c4n" type="matrix" values="0 0 0 0 0.165  0 0 0 0 0.102  0 0 0 0 0.188  8 0 0 0 -5.32" result="c4"/><feMerge result="img"><feMergeNode in="bg"/><feMergeNode in="yel"/><feMergeNode in="net"/><feMergeNode in="c0"/><feMergeNode in="c1"/><feMergeNode in="c2"/><feMergeNode in="c3"/><feMergeNode in="c4"/></feMerge><feTurbulence type="fractalNoise" baseFrequency="0.55" numOctaves="1" seed="48"/><feColorMatrix type="matrix" values="1 0 0 0 0  0 1 0 0 0  0 0 1 0 0  0 0 0 0 1" result="cn"/><feComposite in="img" in2="cn" operator="arithmetic" k2="1" k3="0.3" k4="-0.15"/><feGaussianBlur stdDeviation="0.7"/></filter><filter id="f5" x="0" y="0" width="1" height="1" color-interpolation-filters="sRGB"><feGaussianBlur in="SourceGraphic" stdDeviation="9"/><feColorMatrix type="matrix" values="1 0 0 0 0  1 0 0 0 0  1 0 0 0 0  0 0 0 0 1" result="sg"/><feTurbulence type="fractalNoise" baseFrequency="0.05" numOctaves="2" seed="51"/><feColorMatrix type="matrix" values="1 0 0 0 0  1 0 0 0 0  1 0 0 0 0  0 0 0 0 1" result="dn"/><feComposite in="sg" in2="dn" operator="arithmetic" k2="0.5" k3="0.6" k4="-0.050" result="dens"/><feFlood flood-color="#d6e4cc" result="bg"/><feTurbulence type="fractalNoise" baseFrequency="0.04" numOctaves="2" seed="11"/><feColorMatrix type="matrix" values="0 0 0 0 0.902  0 0 0 0 0.871  0 0 0 0 0.667  4 0 0 0 -2.0" result="yel"/><feTurbulence type="fractalNoise" baseFrequency="0.035" numOctaves="3" seed="62"/><feColorMatrix type="matrix" values="0 0 0 0 0.541  0 0 0 0 0.565  0 0 0 0 0.722  1 0 0 0 0"/><feComponentTransfer result="net"><feFuncA type="table" tableValues="0.0 0.0 0.0 0.0 0.0 0.0 0.0 0.0 0.0 0.0 0.0 0.0 0.0 0.0 0.0 0.0 0.0 0.0 0.0 0.0 0.0 0.0 0.0 0.0 0.0 0.0 0.0 0.0 0.0 0.0 0.0 0.0 0.0 0.0 0.0 0.0 0.0 0.0 0.0 0.0 0.0 0.0 0.0 0.0 0.0 0.0 0.0 0.001 0.031 0.249 0.5 0.249 0.031 0.001 0.0 0.0 0.0 0.0 0.0 0.0 0.0 0.0 0.0 0.0 0.0 0.0 0.0 0.0 0.0 0.0 0.0 0.0 0.0 0.0 0.0 0.0 0.0 0.0 0.0 0.0 0.0 0.0 0.0 0.0 0.0 0.0 0.0 0.0 0.0 0.0 0.0 0.0 0.0 0.0 0.0 0.0 0.0 0.0 0.0 0.0 0.0"/></feComponentTransfer><feTurbulence type="fractalNoise" baseFrequency="0.3" numOctaves="2" seed="4"/><feColorMatrix type="matrix" values="1 0 0 0 0  1 0 0 0 0  1 0 0 0 0  0 0 0 0 1" result="c0n"/><feComposite in="c0n" in2="dens" operator="arithmetic" k2="1" k3="0.6" k4="-0.3" result="c0m"/><feColorMatrix in="c0m" type="matrix" values="0 0 0 0 0.722  0 0 0 0 0.439  0 0 0 0 0.251  8 0 0 0 -4.72" result="c0"/><feTurbulence type="fractalNoise" baseFrequency="0.2" numOctaves="3" seed="1"/><feColorMatrix type="matrix" values="1 0 0 0 0  1 0 0 0 0  1 0 0 0 0  0 0 0 0 1" result="c1n"/><feComposite in="c1n" in2="dens" operator="arithmetic" k2="1" k3="0.8" k4="-0.4" result="c1m"/><feColorMatrix in="c1m" type="matrix" values="0 0 0 0 0.494  0 0 0 0 0.227  0 0 0 0 0.455  7 0 0 0 -4.27" result="c1"/><feTurbulence type="fractalNoise" baseFrequency="0.2" numOctaves="3" seed="2"/><feColorMatrix type="matrix" values="1 0 0 0 0  1 0 0 0 0  1 0 0 0 0  0 0 0 0 1" result="c2n"/><feComposite in="c2n" in2="dens" operator="arithmetic" k2="1" k3="0.8" k4="-0.4" result="c2m"/><feColorMatrix in="c2m" type="matrix" values="0 0 0 0 0.659  0 0 0 0 0.227  0 0 0 0 0.251  7 0 0 0 -4.27" result="c2"/><feTurbulence type="fractalNoise" baseFrequency="0.3" numOctaves="2" seed="3"/><feColorMatrix type="matrix" values="1 0 0 0 0  1 0 0 0 0  1 0 0 0 0  0 0 0 0 1" result="c3n"/><feComposite in="c3n" in2="dens" operator="arithmetic" k2="1" k3="0.5" k4="-0.25" result="c3m"/><feColorMatrix in="c3m" type="matrix" values="0 0 0 0 0.235  0 0 0 0 0.227  0 0 0 0 0.447  8 0 0 0 -5.12" result="c3"/><feTurbulence type="fractalNoise" baseFrequency="0.45" numOctaves="1" seed="7"/><feColorMatrix type="matrix" values="1 0 0 0 0  1 0 0 0 0  1 0 0 0 0  0 0 0 0 1" result="c4n"/><feColorMatrix in="c4n" type="matrix" values="0 0 0 0 0.165  0 0 0 0 0.102  0 0 0 0 0.188  8 0 0 0 -5.28" result="c4"/><feMerge result="img"><feMergeNode in="bg"/><feMergeNode in="yel"/><feMergeNode in="net"/><feMergeNode in="c0"/><feMergeNode in="c1"/><feMergeNode in="c2"/><feMergeNode in="c3"/><feMergeNode in="c4"/></feMerge><feTurbulence type="fractalNoise" baseFrequency="0.55" numOctaves="1" seed="58"/><feColorMatrix type="matrix" values="1 0 0 0 0  0 1 0 0 0  0 0 1 0 0  0 0 0 0 1" result="cn"/><feComposite in="img" in2="cn" operator="arithmetic" k2="1" k3="0.3" k4="-0.15"/><feGaussianBlur stdDeviation="0.7"/></filter>
<clipPath id="cimg"><rect x="0" y="0" width="165" height="131.4" rx="2.2"/></clipPath>
<filter id="soft" x="0" y="0" width="1" height="1"><feGaussianBlur stdDeviation="0.45"/></filter>
<filter id="warp" x="-0.1" y="-0.1" width="1.2" height="1.2"><feTurbulence type="fractalNoise" baseFrequency="0.06" numOctaves="2" seed="4" result="w"/><feDisplacementMap in="SourceGraphic" in2="w" scale="7" xChannelSelector="R" yChannelSelector="G"/><feGaussianBlur stdDeviation="0.35"/></filter>
<filter id="blur3" x="-0.2" y="-0.2" width="1.4" height="1.4"><feGaussianBlur stdDeviation="3"/></filter>
</defs>
<rect width="685" height="706" fill="#fff"/>
<text x="3.60" y="13.80" font-family="Liberation Serif" font-size="15" text-anchor="start" fill="#000" >(A)</text>
<text x="339.60" y="13.80" font-family="Liberation Serif" font-size="15" text-anchor="start" fill="#000" >(B)</text>
<text x="10.40" y="235.80" font-family="Liberation Serif" font-size="15" text-anchor="start" fill="#000" >(C)</text>
<text x="10.80" y="537.20" font-family="Liberation Serif" font-size="15" text-anchor="start" fill="#000" >(D)</text>
<line x1="79.50" y1="29.20" x2="79.50" y2="169.00" stroke="#111" stroke-width="1.3"/>
<line x1="78.90" y1="168.40" x2="290.80" y2="168.40" stroke="#111" stroke-width="1.3"/>
<line x1="74.50" y1="168.40" x2="79.50" y2="168.40" stroke="#111" stroke-width="1.3"/>
<text x="74.30" y="172.00" font-family="Liberation Sans" font-size="10" font-weight="bold" stroke="#000" stroke-width="0.18" text-anchor="end" fill="#000" >0</text>
<line x1="74.50" y1="140.68" x2="79.50" y2="140.68" stroke="#111" stroke-width="1.3"/>
<text x="74.30" y="144.28" font-family="Liberation Sans" font-size="10" font-weight="bold" stroke="#000" stroke-width="0.18" text-anchor="end" fill="#000" >5</text>
<line x1="74.50" y1="112.96" x2="79.50" y2="112.96" stroke="#111" stroke-width="1.3"/>
<text x="74.30" y="116.56" font-family="Liberation Sans" font-size="10" font-weight="bold" stroke="#000" stroke-width="0.18" text-anchor="end" fill="#000" >10</text>
<line x1="74.50" y1="85.24" x2="79.50" y2="85.24" stroke="#111" stroke-width="1.3"/>
<text x="74.30" y="88.84" font-family="Liberation Sans" font-size="10" font-weight="bold" stroke="#000" stroke-width="0.18" text-anchor="end" fill="#000" >15</text>
<line x1="74.50" y1="57.52" x2="79.50" y2="57.52" stroke="#111" stroke-width="1.3"/>
<text x="74.30" y="61.12" font-family="Liberation Sans" font-size="10" font-weight="bold" stroke="#000" stroke-width="0.18" text-anchor="end" fill="#000" >20</text>
<line x1="74.50" y1="29.80" x2="79.50" y2="29.80" stroke="#111" stroke-width="1.3"/>
<text x="74.30" y="33.40" font-family="Liberation Sans" font-size="10" font-weight="bold" stroke="#000" stroke-width="0.18" text-anchor="end" fill="#000" >25</text>
<rect x="88.20" y="163.13" width="34.80" height="5.27" fill="#808080"/>
<line x1="96.60" y1="162.53" x2="114.60" y2="162.53" stroke="#505050" stroke-width="1.0"/>
<line x1="105.60" y1="168.40" x2="105.60" y2="172.70" stroke="#111" stroke-width="1.3"/>
<text transform="translate(110.20,182.30) rotate(-45)" font-family="Liberation Sans" font-size="10.5" font-weight="bold" stroke="#000" stroke-width="0.18" text-anchor="end">0h</text>
<rect x="141.00" y="153.99" width="34.80" height="14.41" fill="#808080"/>
<line x1="149.40" y1="153.39" x2="167.40" y2="153.39" stroke="#505050" stroke-width="1.0"/>
<line x1="158.40" y1="168.40" x2="158.40" y2="172.70" stroke="#111" stroke-width="1.3"/>
<text transform="translate(163.00,182.30) rotate(-45)" font-family="Liberation Sans" font-size="10.5" font-weight="bold" stroke="#000" stroke-width="0.18" text-anchor="end">24h</text>
<path d="M158.40,145.60l0.00,-2.89M158.40,145.60l2.75,-0.89M158.40,145.60l1.70,2.34M158.40,145.60l-1.70,2.34M158.40,145.60l-2.75,-0.89" stroke="#111" stroke-width="1.33" stroke-linecap="butt" fill="none"/>
<rect x="193.80" y="75.54" width="34.80" height="92.86" fill="#808080"/>
<line x1="202.20" y1="74.94" x2="220.20" y2="74.94" stroke="#505050" stroke-width="1.0"/>
<line x1="211.20" y1="168.40" x2="211.20" y2="172.70" stroke="#111" stroke-width="1.3"/>
<text transform="translate(215.80,182.30) rotate(-45)" font-family="Liberation Sans" font-size="10.5" font-weight="bold" stroke="#000" stroke-width="0.18" text-anchor="end">48h</text>
<path d="M207.71,64.60l0.00,-2.89M207.71,64.60l2.75,-0.89M207.71,64.60l1.70,2.34M207.71,64.60l-1.70,2.34M207.71,64.60l-2.75,-0.89M214.69,64.60l0.00,-2.89M214.69,64.60l2.75,-0.89M214.69,64.60l1.70,2.34M214.69,64.60l-1.70,2.34M214.69,64.60l-2.75,-0.89" stroke="#111" stroke-width="1.33" stroke-linecap="butt" fill="none"/>
<rect x="246.60" y="50.04" width="34.80" height="118.36" fill="#808080"/>
<line x1="255.00" y1="49.44" x2="273.00" y2="49.44" stroke="#505050" stroke-width="1.0"/>
<line x1="264.00" y1="168.40" x2="264.00" y2="172.70" stroke="#111" stroke-width="1.3"/>
<text transform="translate(268.60,182.30) rotate(-45)" font-family="Liberation Sans" font-size="10.5" font-weight="bold" stroke="#000" stroke-width="0.18" text-anchor="end">72h</text>
<path d="M260.51,37.80l0.00,-2.89M260.51,37.80l2.75,-0.89M260.51,37.80l1.70,2.34M260.51,37.80l-1.70,2.34M260.51,37.80l-2.75,-0.89M267.49,37.80l0.00,-2.89M267.49,37.80l2.75,-0.89M267.49,37.80l1.70,2.34M267.49,37.80l-1.70,2.34M267.49,37.80l-2.75,-0.89" stroke="#111" stroke-width="1.33" stroke-linecap="butt" fill="none"/>
<text transform="translate(53.60,98.45) rotate(-90)" font-family="Liberation Sans" font-size="13.3" font-weight="bold" text-anchor="middle" textLength="162.5" lengthAdjust="spacing" stroke="#000" stroke-width="0.25">Relative RP11-20G13.3 level</text>
<line x1="412.70" y1="28.00" x2="412.70" y2="170.70" stroke="#111" stroke-width="1.3"/>
<line x1="412.10" y1="170.10" x2="627.50" y2="170.10" stroke="#111" stroke-width="1.3"/>
<line x1="407.70" y1="170.10" x2="412.70" y2="170.10" stroke="#111" stroke-width="1.3"/>
<text x="407.50" y="173.70" font-family="Liberation Sans" font-size="10" font-weight="bold" stroke="#000" stroke-width="0.18" text-anchor="end" fill="#000" >0.0</text>
<line x1="407.70" y1="149.84" x2="412.70" y2="149.84" stroke="#111" stroke-width="1.3"/>
<text x="407.50" y="153.44" font-family="Liberation Sans" font-size="10" font-weight="bold" stroke="#000" stroke-width="0.18" text-anchor="end" fill="#000" >0.2</text>
<line x1="407.70" y1="129.58" x2="412.70" y2="129.58" stroke="#111" stroke-width="1.3"/>
<text x="407.50" y="133.18" font-family="Liberation Sans" font-size="10" font-weight="bold" stroke="#000" stroke-width="0.18" text-anchor="end" fill="#000" >0.4</text>
<line x1="407.70" y1="109.32" x2="412.70" y2="109.32" stroke="#111" stroke-width="1.3"/>
<text x="407.50" y="112.92" font-family="Liberation Sans" font-size="10" font-weight="bold" stroke="#000" stroke-width="0.18" text-anchor="end" fill="#000" >0.6</text>
<line x1="407.70" y1="89.06" x2="412.70" y2="89.06" stroke="#111" stroke-width="1.3"/>
<text x="407.50" y="92.66" font-family="Liberation Sans" font-size="10" font-weight="bold" stroke="#000" stroke-width="0.18" text-anchor="end" fill="#000" >0.8</text>
<line x1="407.70" y1="68.80" x2="412.70" y2="68.80" stroke="#111" stroke-width="1.3"/>
<text x="407.50" y="72.40" font-family="Liberation Sans" font-size="10" font-weight="bold" stroke="#000" stroke-width="0.18" text-anchor="end" fill="#000" >1.0</text>
<line x1="407.70" y1="48.54" x2="412.70" y2="48.54" stroke="#111" stroke-width="1.3"/>
<text x="407.50" y="52.14" font-family="Liberation Sans" font-size="10" font-weight="bold" stroke="#000" stroke-width="0.18" text-anchor="end" fill="#000" >1.2</text>
<line x1="407.70" y1="28.28" x2="412.70" y2="28.28" stroke="#111" stroke-width="1.3"/>
<text x="407.50" y="31.88" font-family="Liberation Sans" font-size="10" font-weight="bold" stroke="#000" stroke-width="0.18" text-anchor="end" fill="#000" >1.4</text>
<rect x="420.90" y="68.80" width="28.40" height="101.30" fill="#808080"/>
<line x1="435.10" y1="68.80" x2="435.10" y2="63.23" stroke="#333" stroke-width="1.2"/>
<line x1="427.60" y1="63.23" x2="442.60" y2="63.23" stroke="#333" stroke-width="1.2"/>
<line x1="435.10" y1="170.10" x2="435.10" y2="174.40" stroke="#111" stroke-width="1.3"/>
<text transform="translate(439.70,183.30) rotate(-45)" font-family="Liberation Sans" font-size="10.7" font-weight="bold" stroke="#000" stroke-width="0.18" text-anchor="end">Control</text>
<rect x="463.62" y="72.85" width="28.40" height="97.25" fill="#808080"/>
<line x1="477.82" y1="72.85" x2="477.82" y2="65.25" stroke="#333" stroke-width="1.2"/>
<line x1="470.32" y1="65.25" x2="485.32" y2="65.25" stroke="#333" stroke-width="1.2"/>
<line x1="477.82" y1="170.10" x2="477.82" y2="174.40" stroke="#111" stroke-width="1.3"/>
<text transform="translate(482.42,183.30) rotate(-45)" font-family="Liberation Sans" font-size="10.7" font-weight="bold" stroke="#000" stroke-width="0.18" text-anchor="end">Scramble</text>
<rect x="506.34" y="131.10" width="28.40" height="39.00" fill="#808080"/>
<line x1="520.54" y1="131.10" x2="520.54" y2="121.48" stroke="#333" stroke-width="1.2"/>
<line x1="513.04" y1="121.48" x2="528.04" y2="121.48" stroke="#333" stroke-width="1.2"/>
<line x1="520.54" y1="170.10" x2="520.54" y2="174.40" stroke="#111" stroke-width="1.3"/>
<text transform="translate(525.14,183.30) rotate(-45)" font-family="Liberation Sans" font-size="10.7" font-weight="bold" stroke="#000" stroke-width="0.18" text-anchor="end">siRNA1</text>
<path d="M517.05,108.60l0.00,-2.89M517.05,108.60l2.75,-0.89M517.05,108.60l1.70,2.34M517.05,108.60l-1.70,2.34M517.05,108.60l-2.75,-0.89M524.02,108.60l0.00,-2.89M524.02,108.60l2.75,-0.89M524.02,108.60l1.70,2.34M524.02,108.60l-1.70,2.34M524.02,108.60l-2.75,-0.89" stroke="#111" stroke-width="1.33" stroke-linecap="butt" fill="none"/>
<rect x="549.06" y="114.38" width="28.40" height="55.72" fill="#808080"/>
<line x1="563.26" y1="114.38" x2="563.26" y2="99.19" stroke="#333" stroke-width="1.2"/>
<line x1="555.76" y1="99.19" x2="570.76" y2="99.19" stroke="#333" stroke-width="1.2"/>
<line x1="563.26" y1="170.10" x2="563.26" y2="174.40" stroke="#111" stroke-width="1.3"/>
<text transform="translate(567.86,183.30) rotate(-45)" font-family="Liberation Sans" font-size="10.7" font-weight="bold" stroke="#000" stroke-width="0.18" text-anchor="end">siRNA2</text>
<path d="M559.77,85.80l0.00,-2.89M559.77,85.80l2.75,-0.89M559.77,85.80l1.70,2.34M559.77,85.80l-1.70,2.34M559.77,85.80l-2.75,-0.89M566.75,85.80l0.00,-2.89M566.75,85.80l2.75,-0.89M566.75,85.80l1.70,2.34M566.75,85.80l-1.70,2.34M566.75,85.80l-2.75,-0.89" stroke="#111" stroke-width="1.33" stroke-linecap="butt" fill="none"/>
<rect x="591.78" y="116.41" width="28.40" height="53.69" fill="#808080"/>
<line x1="605.98" y1="116.41" x2="605.98" y2="108.31" stroke="#333" stroke-width="1.2"/>
<line x1="598.48" y1="108.31" x2="613.48" y2="108.31" stroke="#333" stroke-width="1.2"/>
<line x1="605.98" y1="170.10" x2="605.98" y2="174.40" stroke="#111" stroke-width="1.3"/>
<text transform="translate(610.58,183.30) rotate(-45)" font-family="Liberation Sans" font-size="10.7" font-weight="bold" stroke="#000" stroke-width="0.18" text-anchor="end">siRNA3</text>
<path d="M602.50,95.70l0.00,-2.89M602.50,95.70l2.75,-0.89M602.50,95.70l1.70,2.34M602.50,95.70l-1.70,2.34M602.50,95.70l-2.75,-0.89M609.47,95.70l0.00,-2.89M609.47,95.70l2.75,-0.89M609.47,95.70l1.70,2.34M609.47,95.70l-1.70,2.34M609.47,95.70l-2.75,-0.89" stroke="#111" stroke-width="1.33" stroke-linecap="butt" fill="none"/>
<text transform="translate(384.60,98.70) rotate(-90)" font-family="Liberation Sans" font-size="13.3" font-weight="bold" text-anchor="middle" textLength="166" lengthAdjust="spacing" stroke="#000" stroke-width="0.25">Relative RP11-20G13.3 level</text>
<text x="166.00" y="237.60" font-family="Liberation Sans" font-size="10.5" font-weight="bold" stroke="#000" stroke-width="0.18" text-anchor="middle" fill="#000" >0h</text>
<text x="341.40" y="237.60" font-family="Liberation Sans" font-size="10.5" font-weight="bold" stroke="#000" stroke-width="0.18" text-anchor="middle" fill="#000" >48h</text>
<text x="517.00" y="237.60" font-family="Liberation Sans" font-size="10.5" font-weight="bold" stroke="#000" stroke-width="0.18" text-anchor="middle" fill="#000" >72h</text>
<text x="53.20" y="311.10" font-family="Liberation Sans" font-size="9.3" font-weight="bold" stroke="#000" stroke-width="0.18" text-anchor="middle" fill="#000" >Control</text>
<text x="53.60" y="451.20" font-family="Liberation Sans" font-size="9.2" font-weight="bold" stroke="#000" stroke-width="0.18" text-anchor="middle" fill="#000" >Knockdown</text>
<g transform="translate(83.30,241.60)"><g clip-path="url(#cimg)"><g filter="url(#f0)"><rect x="-25.0" y="-25.0" width="52.5" height="51.3" fill="#b2b2b2"/><rect x="27.5" y="-25.0" width="27.5" height="51.3" fill="#cccccc"/><rect x="55.0" y="-25.0" width="27.5" height="51.3" fill="#b2b2b2"/><rect x="82.5" y="-25.0" width="27.5" height="51.3" fill="#666666"/><rect x="110.0" y="-25.0" width="27.5" height="51.3" fill="#999999"/><rect x="137.5" y="-25.0" width="52.5" height="51.3" fill="#4c4c4c"/><rect x="-25.0" y="26.3" width="52.5" height="26.3" fill="#333333"/><rect x="27.5" y="26.3" width="27.5" height="26.3" fill="#cccccc"/><rect x="55.0" y="26.3" width="27.5" height="26.3" fill="#e6e6e6"/><rect x="82.5" y="26.3" width="27.5" height="26.3" fill="#808080"/><rect x="110.0" y="26.3" width="27.5" height="26.3" fill="#999999"/><rect x="137.5" y="26.3" width="52.5" height="26.3" fill="#666666"/><rect x="-25.0" y="52.6" width="52.5" height="26.3" fill="#666666"/><rect x="27.5" y="52.6" width="27.5" height="26.3" fill="#cccccc"/><rect x="55.0" y="52.6" width="27.5" height="26.3" fill="#cccccc"/><rect x="82.5" y="52.6" width="27.5" height="26.3" fill="#b2b2b2"/><rect x="110.0" y="52.6" width="27.5" height="26.3" fill="#333333"/><rect x="137.5" y="52.6" width="52.5" height="26.3" fill="#333333"/><rect x="-25.0" y="78.8" width="52.5" height="26.3" fill="#4c4c4c"/><rect x="27.5" y="78.8" width="27.5" height="26.3" fill="#cccccc"/><rect x="55.0" y="78.8" width="27.5" height="26.3" fill="#e6e6e6"/><rect x="82.5" y="78.8" width="27.5" height="26.3" fill="#cccccc"/><rect x="110.0" y="78.8" width="27.5" height="26.3" fill="#999999"/><rect x="137.5" y="78.8" width="52.5" height="26.3" fill="#808080"/><rect x="-25.0" y="105.1" width="52.5" height="51.3" fill="#1a1a1a"/><rect x="27.5" y="105.1" width="27.5" height="51.3" fill="#333333"/><rect x="55.0" y="105.1" width="27.5" height="51.3" fill="#999999"/><rect x="82.5" y="105.1" width="27.5" height="51.3" fill="#4c4c4c"/><rect x="110.0" y="105.1" width="27.5" height="51.3" fill="#808080"/><rect x="137.5" y="105.1" width="52.5" height="51.3" fill="#999999"/></g>
<line x1="120.5" y1="124" x2="154.5" y2="124" stroke="#2a2aa8" stroke-width="1.6"/><line x1="120.5" y1="122" x2="120.5" y2="126" stroke="#2a2aa8" stroke-width="1"/><line x1="154.5" y1="122" x2="154.5" y2="126" stroke="#2a2aa8" stroke-width="1"/>
<text x="137.5" y="121" font-family="Liberation Serif" font-size="8" font-weight="bold" fill="#2a2aa8" text-anchor="middle">10μm</text>
</g>
<rect x="0" y="0" width="165.00" height="131.40" rx="2.2" fill="none" stroke="#161616" stroke-width="1.7"/></g>
<g transform="translate(258.60,241.60)"><g clip-path="url(#cimg)"><g filter="url(#f1)"><rect x="-25.0" y="-25.0" width="52.5" height="51.3" fill="#6c6c6c"/><rect x="27.5" y="-25.0" width="27.5" height="51.3" fill="#797979"/><rect x="55.0" y="-25.0" width="27.5" height="51.3" fill="#8c8c8c"/><rect x="82.5" y="-25.0" width="27.5" height="51.3" fill="#8c8c8c"/><rect x="110.0" y="-25.0" width="27.5" height="51.3" fill="#8c8c8c"/><rect x="137.5" y="-25.0" width="52.5" height="51.3" fill="#737373"/><rect x="-25.0" y="26.3" width="52.5" height="26.3" fill="#666666"/><rect x="27.5" y="26.3" width="27.5" height="26.3" fill="#808080"/><rect x="55.0" y="26.3" width="27.5" height="26.3" fill="#8c8c8c"/><rect x="82.5" y="26.3" width="27.5" height="26.3" fill="#868686"/><rect x="110.0" y="26.3" width="27.5" height="26.3" fill="#939393"/><rect x="137.5" y="26.3" width="52.5" height="26.3" fill="#797979"/><rect x="-25.0" y="52.6" width="52.5" height="26.3" fill="#6c6c6c"/><rect x="27.5" y="52.6" width="27.5" height="26.3" fill="#868686"/><rect x="55.0" y="52.6" width="27.5" height="26.3" fill="#939393"/><rect x="82.5" y="52.6" width="27.5" height="26.3" fill="#999999"/><rect x="110.0" y="52.6" width="27.5" height="26.3" fill="#999999"/><rect x="137.5" y="52.6" width="52.5" height="26.3" fill="#868686"/><rect x="-25.0" y="78.8" width="52.5" height="26.3" fill="#6c6c6c"/><rect x="27.5" y="78.8" width="27.5" height="26.3" fill="#808080"/><rect x="55.0" y="78.8" width="27.5" height="26.3" fill="#939393"/><rect x="82.5" y="78.8" width="27.5" height="26.3" fill="#939393"/><rect x="110.0" y="78.8" width="27.5" height="26.3" fill="#8c8c8c"/><rect x="137.5" y="78.8" width="52.5" height="26.3" fill="#808080"/><rect x="-25.0" y="105.1" width="52.5" height="51.3" fill="#666666"/><rect x="27.5" y="105.1" width="27.5" height="51.3" fill="#737373"/><rect x="55.0" y="105.1" width="27.5" height="51.3" fill="#808080"/><rect x="82.5" y="105.1" width="27.5" height="51.3" fill="#868686"/><rect x="110.0" y="105.1" width="27.5" height="51.3" fill="#808080"/><rect x="137.5" y="105.1" width="52.5" height="51.3" fill="#797979"/></g>
<line x1="120.5" y1="124" x2="154.5" y2="124" stroke="#2a2aa8" stroke-width="1.6"/><line x1="120.5" y1="122" x2="120.5" y2="126" stroke="#2a2aa8" stroke-width="1"/><line x1="154.5" y1="122" x2="154.5" y2="126" stroke="#2a2aa8" stroke-width="1"/>
<text x="137.5" y="121" font-family="Liberation Serif" font-size="8" font-weight="bold" fill="#2a2aa8" text-anchor="middle">10μm</text>
</g>
<rect x="0" y="0" width="165.00" height="131.40" rx="2.2" fill="none" stroke="#161616" stroke-width="1.7"/></g>
<g transform="translate(434.60,241.60)"><g clip-path="url(#cimg)"><g filter="url(#f2)"><rect x="-25.0" y="-25.0" width="52.5" height="51.3" fill="#868686"/><rect x="27.5" y="-25.0" width="27.5" height="51.3" fill="#9f9f9f"/><rect x="55.0" y="-25.0" width="27.5" height="51.3" fill="#999999"/><rect x="82.5" y="-25.0" width="27.5" height="51.3" fill="#868686"/><rect x="110.0" y="-25.0" width="27.5" height="51.3" fill="#808080"/><rect x="137.5" y="-25.0" width="52.5" height="51.3" fill="#868686"/><rect x="-25.0" y="26.3" width="52.5" height="26.3" fill="#737373"/><rect x="27.5" y="26.3" width="27.5" height="26.3" fill="#999999"/><rect x="55.0" y="26.3" width="27.5" height="26.3" fill="#8c8c8c"/><rect x="82.5" y="26.3" width="27.5" height="26.3" fill="#808080"/><rect x="110.0" y="26.3" width="27.5" height="26.3" fill="#868686"/><rect x="137.5" y="26.3" width="52.5" height="26.3" fill="#999999"/><rect x="-25.0" y="52.6" width="52.5" height="26.3" fill="#6c6c6c"/><rect x="27.5" y="52.6" width="27.5" height="26.3" fill="#868686"/><rect x="55.0" y="52.6" width="27.5" height="26.3" fill="#999999"/><rect x="82.5" y="52.6" width="27.5" height="26.3" fill="#a6a6a6"/><rect x="110.0" y="52.6" width="27.5" height="26.3" fill="#9f9f9f"/><rect x="137.5" y="52.6" width="52.5" height="26.3" fill="#8c8c8c"/><rect x="-25.0" y="78.8" width="52.5" height="26.3" fill="#808080"/><rect x="27.5" y="78.8" width="27.5" height="26.3" fill="#797979"/><rect x="55.0" y="78.8" width="27.5" height="26.3" fill="#999999"/><rect x="82.5" y="78.8" width="27.5" height="26.3" fill="#a6a6a6"/><rect x="110.0" y="78.8" width="27.5" height="26.3" fill="#999999"/><rect x="137.5" y="78.8" width="52.5" height="26.3" fill="#808080"/><rect x="-25.0" y="105.1" width="52.5" height="51.3" fill="#737373"/><rect x="27.5" y="105.1" width="27.5" height="51.3" fill="#999999"/><rect x="55.0" y="105.1" width="27.5" height="51.3" fill="#9f9f9f"/><rect x="82.5" y="105.1" width="27.5" height="51.3" fill="#999999"/><rect x="110.0" y="105.1" width="27.5" height="51.3" fill="#8c8c8c"/><rect x="137.5" y="105.1" width="52.5" height="51.3" fill="#868686"/></g>
<line x1="120.5" y1="124" x2="154.5" y2="124" stroke="#2a2aa8" stroke-width="1.6"/><line x1="120.5" y1="122" x2="120.5" y2="126" stroke="#2a2aa8" stroke-width="1"/><line x1="154.5" y1="122" x2="154.5" y2="126" stroke="#2a2aa8" stroke-width="1"/>
<text x="137.5" y="121" font-family="Liberation Serif" font-size="8" font-weight="bold" fill="#2a2aa8" text-anchor="middle">10μm</text>
</g>
<rect x="0" y="0" width="165.00" height="131.40" rx="2.2" fill="none" stroke="#161616" stroke-width="1.7"/></g>
<g transform="translate(83.30,382.30)"><g clip-path="url(#cimg)"><g filter="url(#f3)"><rect x="-25.0" y="-25.0" width="52.5" height="51.3" fill="#4c4c4c"/><rect x="27.5" y="-25.0" width="27.5" height="51.3" fill="#4c4c4c"/><rect x="55.0" y="-25.0" width="27.5" height="51.3" fill="#b2b2b2"/><rect x="82.5" y="-25.0" width="27.5" height="51.3" fill="#cccccc"/><rect x="110.0" y="-25.0" width="27.5" height="51.3" fill="#4c4c4c"/><rect x="137.5" y="-25.0" width="52.5" height="51.3" fill="#808080"/><rect x="-25.0" y="26.3" width="52.5" height="26.3" fill="#808080"/><rect x="27.5" y="26.3" width="27.5" height="26.3" fill="#999999"/><rect x="55.0" y="26.3" width="27.5" height="26.3" fill="#4c4c4c"/><rect x="82.5" y="26.3" width="27.5" height="26.3" fill="#e6e6e6"/><rect x="110.0" y="26.3" width="27.5" height="26.3" fill="#999999"/><rect x="137.5" y="26.3" width="52.5" height="26.3" fill="#b2b2b2"/><rect x="-25.0" y="52.6" width="52.5" height="26.3" fill="#4c4c4c"/><rect x="27.5" y="52.6" width="27.5" height="26.3" fill="#b2b2b2"/><rect x="55.0" y="52.6" width="27.5" height="26.3" fill="#808080"/><rect x="82.5" y="52.6" width="27.5" height="26.3" fill="#999999"/><rect x="110.0" y="52.6" width="27.5" height="26.3" fill="#333333"/><rect x="137.5" y="52.6" width="52.5" height="26.3" fill="#333333"/><rect x="-25.0" y="78.8" width="52.5" height="26.3" fill="#333333"/><rect x="27.5" y="78.8" width="27.5" height="26.3" fill="#999999"/><rect x="55.0" y="78.8" width="27.5" height="26.3" fill="#808080"/><rect x="82.5" y="78.8" width="27.5" height="26.3" fill="#808080"/><rect x="110.0" y="78.8" width="27.5" height="26.3" fill="#b2b2b2"/><rect x="137.5" y="78.8" width="52.5" height="26.3" fill="#666666"/><rect x="-25.0" y="105.1" width="52.5" height="51.3" fill="#b2b2b2"/><rect x="27.5" y="105.1" width="27.5" height="51.3" fill="#cccccc"/><rect x="55.0" y="105.1" width="27.5" height="51.3" fill="#999999"/><rect x="82.5" y="105.1" width="27.5" height="51.3" fill="#b2b2b2"/><rect x="110.0" y="105.1" width="27.5" height="51.3" fill="#333333"/><rect x="137.5" y="105.1" width="52.5" height="51.3" fill="#4c4c4c"/></g>
<line x1="120.5" y1="124" x2="154.5" y2="124" stroke="#2a2aa8" stroke-width="1.6"/><line x1="120.5" y1="122" x2="120.5" y2="126" stroke="#2a2aa8" stroke-width="1"/><line x1="154.5" y1="122" x2="154.5" y2="126" stroke="#2a2aa8" stroke-width="1"/>
<text x="137.5" y="121" font-family="Liberation Serif" font-size="8" font-weight="bold" fill="#2a2aa8" text-anchor="middle">10μm</text>
</g>
<rect x="0" y="0" width="165.00" height="131.40" rx="2.2" fill="none" stroke="#161616" stroke-width="1.7"/></g>
<g transform="translate(258.60,382.30)"><g clip-path="url(#cimg)"><g filter="url(#f4)"><rect x="-25.0" y="-25.0" width="52.5" height="51.3" fill="#808080"/><rect x="27.5" y="-25.0" width="27.5" height="51.3" fill="#868686"/><rect x="55.0" y="-25.0" width="27.5" height="51.3" fill="#8c8c8c"/><rect x="82.5" y="-25.0" width="27.5" height="51.3" fill="#8c8c8c"/><rect x="110.0" y="-25.0" width="27.5" height="51.3" fill="#808080"/><rect x="137.5" y="-25.0" width="52.5" height="51.3" fill="#797979"/><rect x="-25.0" y="26.3" width="52.5" height="26.3" fill="#797979"/><rect x="27.5" y="26.3" width="27.5" height="26.3" fill="#868686"/><rect x="55.0" y="26.3" width="27.5" height="26.3" fill="#868686"/><rect x="82.5" y="26.3" width="27.5" height="26.3" fill="#8c8c8c"/><rect x="110.0" y="26.3" width="27.5" height="26.3" fill="#8c8c8c"/><rect x="137.5" y="26.3" width="52.5" height="26.3" fill="#737373"/><rect x="-25.0" y="52.6" width="52.5" height="26.3" fill="#737373"/><rect x="27.5" y="52.6" width="27.5" height="26.3" fill="#808080"/><rect x="55.0" y="52.6" width="27.5" height="26.3" fill="#797979"/><rect x="82.5" y="52.6" width="27.5" height="26.3" fill="#797979"/><rect x="110.0" y="52.6" width="27.5" height="26.3" fill="#797979"/><rect x="137.5" y="52.6" width="52.5" height="26.3" fill="#737373"/><rect x="-25.0" y="78.8" width="52.5" height="26.3" fill="#6c6c6c"/><rect x="27.5" y="78.8" width="27.5" height="26.3" fill="#797979"/><rect x="55.0" y="78.8" width="27.5" height="26.3" fill="#797979"/><rect x="82.5" y="78.8" width="27.5" height="26.3" fill="#808080"/><rect x="110.0" y="78.8" width="27.5" height="26.3" fill="#797979"/><rect x="137.5" y="78.8" width="52.5" height="26.3" fill="#6c6c6c"/><rect x="-25.0" y="105.1" width="52.5" height="51.3" fill="#666666"/><rect x="27.5" y="105.1" width="27.5" height="51.3" fill="#737373"/><rect x="55.0" y="105.1" width="27.5" height="51.3" fill="#6c6c6c"/><rect x="82.5" y="105.1" width="27.5" height="51.3" fill="#6c6c6c"/><rect x="110.0" y="105.1" width="27.5" height="51.3" fill="#666666"/><rect x="137.5" y="105.1" width="52.5" height="51.3" fill="#6c6c6c"/></g>
<line x1="120.5" y1="124" x2="154.5" y2="124" stroke="#2a2aa8" stroke-width="1.6"/><line x1="120.5" y1="122" x2="120.5" y2="126" stroke="#2a2aa8" stroke-width="1"/><line x1="154.5" y1="122" x2="154.5" y2="126" stroke="#2a2aa8" stroke-width="1"/>
<text x="137.5" y="121" font-family="Liberation Serif" font-size="8" font-weight="bold" fill="#2a2aa8" text-anchor="middle">10μm</text>
</g>
<rect x="0" y="0" width="165.00" height="131.40" rx="2.2" fill="none" stroke="#161616" stroke-width="1.7"/></g>
<g transform="translate(434.60,382.30)"><g clip-path="url(#cimg)"><g filter="url(#f5)"><rect x="-25.0" y="-25.0" width="52.5" height="51.3" fill="#797979"/><rect x="27.5" y="-25.0" width="27.5" height="51.3" fill="#939393"/><rect x="55.0" y="-25.0" width="27.5" height="51.3" fill="#8c8c8c"/><rect x="82.5" y="-25.0" width="27.5" height="51.3" fill="#8c8c8c"/><rect x="110.0" y="-25.0" width="27.5" height="51.3" fill="#868686"/><rect x="137.5" y="-25.0" width="52.5" height="51.3" fill="#808080"/><rect x="-25.0" y="26.3" width="52.5" height="26.3" fill="#737373"/><rect x="27.5" y="26.3" width="27.5" height="26.3" fill="#8c8c8c"/><rect x="55.0" y="26.3" width="27.5" height="26.3" fill="#868686"/><rect x="82.5" y="26.3" width="27.5" height="26.3" fill="#868686"/><rect x="110.0" y="26.3" width="27.5" height="26.3" fill="#8c8c8c"/><rect x="137.5" y="26.3" width="52.5" height="26.3" fill="#808080"/><rect x="-25.0" y="52.6" width="52.5" height="26.3" fill="#737373"/><rect x="27.5" y="52.6" width="27.5" height="26.3" fill="#868686"/><rect x="55.0" y="52.6" width="27.5" height="26.3" fill="#8c8c8c"/><rect x="82.5" y="52.6" width="27.5" height="26.3" fill="#8c8c8c"/><rect x="110.0" y="52.6" width="27.5" height="26.3" fill="#868686"/><rect x="137.5" y="52.6" width="52.5" height="26.3" fill="#797979"/><rect x="-25.0" y="78.8" width="52.5" height="26.3" fill="#797979"/><rect x="27.5" y="78.8" width="27.5" height="26.3" fill="#868686"/><rect x="55.0" y="78.8" width="27.5" height="26.3" fill="#868686"/><rect x="82.5" y="78.8" width="27.5" height="26.3" fill="#808080"/><rect x="110.0" y="78.8" width="27.5" height="26.3" fill="#808080"/><rect x="137.5" y="78.8" width="52.5" height="26.3" fill="#737373"/><rect x="-25.0" y="105.1" width="52.5" height="51.3" fill="#797979"/><rect x="27.5" y="105.1" width="27.5" height="51.3" fill="#808080"/><rect x="55.0" y="105.1" width="27.5" height="51.3" fill="#797979"/><rect x="82.5" y="105.1" width="27.5" height="51.3" fill="#808080"/><rect x="110.0" y="105.1" width="27.5" height="51.3" fill="#797979"/><rect x="137.5" y="105.1" width="52.5" height="51.3" fill="#737373"/></g>
<line x1="120.5" y1="124" x2="154.5" y2="124" stroke="#2a2aa8" stroke-width="1.6"/><line x1="120.5" y1="122" x2="120.5" y2="126" stroke="#2a2aa8" stroke-width="1"/><line x1="154.5" y1="122" x2="154.5" y2="126" stroke="#2a2aa8" stroke-width="1"/>
<text x="137.5" y="121" font-family="Liberation Serif" font-size="8" font-weight="bold" fill="#2a2aa8" text-anchor="middle">10μm</text>
</g>
<rect x="0" y="0" width="165.00" height="131.40" rx="2.2" fill="none" stroke="#161616" stroke-width="1.7"/></g>
<line x1="61.90" y1="562.00" x2="61.90" y2="679.50" stroke="#111" stroke-width="1.3"/>
<line x1="61.30" y1="678.90" x2="236.50" y2="678.90" stroke="#111" stroke-width="1.3"/>
<line x1="58.50" y1="678.90" x2="61.90" y2="678.90" stroke="#111" stroke-width="1.3"/>
<text x="58.20" y="681.90" font-family="Liberation Sans" font-size="8.6" font-weight="bold" stroke="#000" stroke-width="0.18" text-anchor="end" fill="#000" >0</text>
<line x1="58.50" y1="649.83" x2="61.90" y2="649.83" stroke="#111" stroke-width="1.3"/>
<text x="58.20" y="652.83" font-family="Liberation Sans" font-size="8.6" font-weight="bold" stroke="#000" stroke-width="0.18" text-anchor="end" fill="#000" >5</text>
<line x1="58.50" y1="620.75" x2="61.90" y2="620.75" stroke="#111" stroke-width="1.3"/>
<text x="58.20" y="623.75" font-family="Liberation Sans" font-size="8.6" font-weight="bold" stroke="#000" stroke-width="0.18" text-anchor="end" fill="#000" >10</text>
<line x1="58.50" y1="591.67" x2="61.90" y2="591.67" stroke="#111" stroke-width="1.3"/>
<text x="58.20" y="594.67" font-family="Liberation Sans" font-size="8.6" font-weight="bold" stroke="#000" stroke-width="0.18" text-anchor="end" fill="#000" >15</text>
<line x1="58.50" y1="562.60" x2="61.90" y2="562.60" stroke="#111" stroke-width="1.3"/>
<text x="58.20" y="565.60" font-family="Liberation Sans" font-size="8.6" font-weight="bold" stroke="#000" stroke-width="0.18" text-anchor="end" fill="#000" >20</text>
<line x1="83.60" y1="678.90" x2="83.60" y2="682.50" stroke="#111" stroke-width="1.3"/>
<text transform="translate(87.00,691.00) rotate(-45)" font-family="Liberation Sans" font-size="8.7" font-weight="bold" stroke="#000" stroke-width="0.18" text-anchor="end">0h</text>
<line x1="127.20" y1="678.90" x2="127.20" y2="682.50" stroke="#111" stroke-width="1.3"/>
<text transform="translate(130.60,691.00) rotate(-45)" font-family="Liberation Sans" font-size="8.7" font-weight="bold" stroke="#000" stroke-width="0.18" text-anchor="end">24h</text>
<line x1="170.80" y1="678.90" x2="170.80" y2="682.50" stroke="#111" stroke-width="1.3"/>
<text transform="translate(174.20,691.00) rotate(-45)" font-family="Liberation Sans" font-size="8.7" font-weight="bold" stroke="#000" stroke-width="0.18" text-anchor="end">48h</text>
<line x1="214.40" y1="678.90" x2="214.40" y2="682.50" stroke="#111" stroke-width="1.3"/>
<text transform="translate(217.80,691.00) rotate(-45)" font-family="Liberation Sans" font-size="8.7" font-weight="bold" stroke="#000" stroke-width="0.18" text-anchor="end">72h</text>
<polyline points="83.60,673.49 127.20,664.01 170.80,616.74 214.40,578.30" fill="none" stroke="#111" stroke-width="1.2"/>
<polyline points="83.60,673.49 127.20,670.70 170.80,649.94 214.40,638.83" fill="none" stroke="#111" stroke-width="1.2"/>
<circle cx="83.60" cy="673.49" r="2.3" fill="#000"/>
<circle cx="127.20" cy="664.01" r="2.3" fill="#000"/>
<circle cx="170.80" cy="616.74" r="2.3" fill="#000"/>
<circle cx="214.40" cy="578.30" r="2.3" fill="#000"/>
<rect x="81.40" y="671.29" width="4.40" height="4.40" fill="#000"/>
<rect x="125.00" y="668.50" width="4.40" height="4.40" fill="#000"/>
<rect x="168.60" y="647.74" width="4.40" height="4.40" fill="#000"/>
<rect x="212.20" y="636.63" width="4.40" height="4.40" fill="#000"/>
<path d="M125.05,653.10l0.00,-2.45M125.05,653.10l2.33,-0.76M125.05,653.10l1.44,1.98M125.05,653.10l-1.44,1.98M125.05,653.10l-2.33,-0.76M130.95,653.10l0.00,-2.45M130.95,653.10l2.33,-0.76M130.95,653.10l1.44,1.98M130.95,653.10l-1.44,1.98M130.95,653.10l-2.33,-0.76" stroke="#111" stroke-width="1.12" stroke-linecap="butt" fill="none"/>
<path d="M168.65,637.60l0.00,-2.45M168.65,637.60l2.33,-0.76M168.65,637.60l1.44,1.98M168.65,637.60l-1.44,1.98M168.65,637.60l-2.33,-0.76M174.55,637.60l0.00,-2.45M174.55,637.60l2.33,-0.76M174.55,637.60l1.44,1.98M174.55,637.60l-1.44,1.98M174.55,637.60l-2.33,-0.76" stroke="#111" stroke-width="1.12" stroke-linecap="butt" fill="none"/>
<path d="M212.25,626.00l0.00,-2.45M212.25,626.00l2.33,-0.76M212.25,626.00l1.44,1.98M212.25,626.00l-1.44,1.98M212.25,626.00l-2.33,-0.76M218.15,626.00l0.00,-2.45M218.15,626.00l2.33,-0.76M218.15,626.00l1.44,1.98M218.15,626.00l-1.44,1.98M218.15,626.00l-2.33,-0.76" stroke="#111" stroke-width="1.12" stroke-linecap="butt" fill="none"/>
<line x1="76.20" y1="568.40" x2="88.80" y2="568.40" stroke="#111" stroke-width="1.2"/>
<circle cx="82.50" cy="568.4" r="2.3" fill="#000"/>
<line x1="76.20" y1="581.80" x2="88.80" y2="581.80" stroke="#111" stroke-width="1.2"/>
<rect x="80.30" y="579.60" width="4.40" height="4.40" fill="#000"/>
<text x="95.80" y="571.40" font-family="Liberation Sans" font-size="8.6" text-anchor="start" fill="#000" >Control</text>
<text x="95.80" y="584.80" font-family="Liberation Sans" font-size="8.6" text-anchor="start" fill="#000" >Knockdown</text>
<text transform="translate(39.00,622.00) rotate(-90)" font-family="Liberation Sans" font-size="10.2" font-weight="bold" text-anchor="middle" textLength="132" lengthAdjust="spacing" stroke="#000" stroke-width="0.15">Relative mRNA level of PPARγ</text>
<line x1="285.10" y1="562.30" x2="285.10" y2="679.50" stroke="#111" stroke-width="1.3"/>
<line x1="284.50" y1="678.90" x2="459.70" y2="678.90" stroke="#111" stroke-width="1.3"/>
<line x1="281.70" y1="678.90" x2="285.10" y2="678.90" stroke="#111" stroke-width="1.3"/>
<text x="281.40" y="681.90" font-family="Liberation Sans" font-size="8.6" font-weight="bold" stroke="#000" stroke-width="0.18" text-anchor="end" fill="#000" >0</text>
<line x1="281.70" y1="640.23" x2="285.10" y2="640.23" stroke="#111" stroke-width="1.3"/>
<text x="281.40" y="643.23" font-family="Liberation Sans" font-size="8.6" font-weight="bold" stroke="#000" stroke-width="0.18" text-anchor="end" fill="#000" >5</text>
<line x1="281.70" y1="601.57" x2="285.10" y2="601.57" stroke="#111" stroke-width="1.3"/>
<text x="281.40" y="604.57" font-family="Liberation Sans" font-size="8.6" font-weight="bold" stroke="#000" stroke-width="0.18" text-anchor="end" fill="#000" >10</text>
<line x1="281.70" y1="562.90" x2="285.10" y2="562.90" stroke="#111" stroke-width="1.3"/>
<text x="281.40" y="565.90" font-family="Liberation Sans" font-size="8.6" font-weight="bold" stroke="#000" stroke-width="0.18" text-anchor="end" fill="#000" >15</text>
<line x1="306.80" y1="678.90" x2="306.80" y2="682.50" stroke="#111" stroke-width="1.3"/>
<text transform="translate(310.20,691.00) rotate(-45)" font-family="Liberation Sans" font-size="8.7" font-weight="bold" stroke="#000" stroke-width="0.18" text-anchor="end">0h</text>
<line x1="350.40" y1="678.90" x2="350.40" y2="682.50" stroke="#111" stroke-width="1.3"/>
<text transform="translate(353.80,691.00) rotate(-45)" font-family="Liberation Sans" font-size="8.7" font-weight="bold" stroke="#000" stroke-width="0.18" text-anchor="end">24h</text>
<line x1="394.00" y1="678.90" x2="394.00" y2="682.50" stroke="#111" stroke-width="1.3"/>
<text transform="translate(397.40,691.00) rotate(-45)" font-family="Liberation Sans" font-size="8.7" font-weight="bold" stroke="#000" stroke-width="0.18" text-anchor="end">48h</text>
<line x1="437.60" y1="678.90" x2="437.60" y2="682.50" stroke="#111" stroke-width="1.3"/>
<text transform="translate(441.00,691.00) rotate(-45)" font-family="Liberation Sans" font-size="8.7" font-weight="bold" stroke="#000" stroke-width="0.18" text-anchor="end">72h</text>
<polyline points="306.80,671.17 350.40,630.18 394.00,600.79 437.60,586.87" fill="none" stroke="#111" stroke-width="1.2"/>
<polyline points="306.80,671.55 350.40,656.47 394.00,647.58 437.60,623.99" fill="none" stroke="#111" stroke-width="1.2"/>
<circle cx="306.80" cy="671.17" r="2.3" fill="#000"/>
<circle cx="350.40" cy="630.18" r="2.3" fill="#000"/>
<circle cx="394.00" cy="600.79" r="2.3" fill="#000"/>
<circle cx="437.60" cy="586.87" r="2.3" fill="#000"/>
<rect x="304.60" y="669.35" width="4.40" height="4.40" fill="#000"/>
<rect x="348.20" y="654.27" width="4.40" height="4.40" fill="#000"/>
<rect x="391.80" y="645.38" width="4.40" height="4.40" fill="#000"/>
<rect x="435.40" y="621.79" width="4.40" height="4.40" fill="#000"/>
<path d="M348.25,646.50l0.00,-2.45M348.25,646.50l2.33,-0.76M348.25,646.50l1.44,1.98M348.25,646.50l-1.44,1.98M348.25,646.50l-2.33,-0.76M354.15,646.50l0.00,-2.45M354.15,646.50l2.33,-0.76M354.15,646.50l1.44,1.98M354.15,646.50l-1.44,1.98M354.15,646.50l-2.33,-0.76" stroke="#111" stroke-width="1.12" stroke-linecap="butt" fill="none"/>
<path d="M391.85,636.50l0.00,-2.45M391.85,636.50l2.33,-0.76M391.85,636.50l1.44,1.98M391.85,636.50l-1.44,1.98M391.85,636.50l-2.33,-0.76M397.75,636.50l0.00,-2.45M397.75,636.50l2.33,-0.76M397.75,636.50l1.44,1.98M397.75,636.50l-1.44,1.98M397.75,636.50l-2.33,-0.76" stroke="#111" stroke-width="1.12" stroke-linecap="butt" fill="none"/>
<path d="M435.45,612.20l0.00,-2.45M435.45,612.20l2.33,-0.76M435.45,612.20l1.44,1.98M435.45,612.20l-1.44,1.98M435.45,612.20l-2.33,-0.76M441.35,612.20l0.00,-2.45M441.35,612.20l2.33,-0.76M441.35,612.20l1.44,1.98M441.35,612.20l-1.44,1.98M441.35,612.20l-2.33,-0.76" stroke="#111" stroke-width="1.12" stroke-linecap="butt" fill="none"/>
<line x1="299.40" y1="568.40" x2="312.00" y2="568.40" stroke="#111" stroke-width="1.2"/>
<circle cx="305.70" cy="568.4" r="2.3" fill="#000"/>
<line x1="299.40" y1="581.80" x2="312.00" y2="581.80" stroke="#111" stroke-width="1.2"/>
<rect x="303.50" y="579.60" width="4.40" height="4.40" fill="#000"/>
<text x="319.00" y="571.40" font-family="Liberation Sans" font-size="8.6" text-anchor="start" fill="#000" >Control</text>
<text x="319.00" y="584.80" font-family="Liberation Sans" font-size="8.6" text-anchor="start" fill="#000" >Knockdown</text>
<text transform="translate(261.80,621.75) rotate(-90)" font-family="Liberation Sans" font-size="10.2" font-weight="bold" text-anchor="middle" textLength="137.7" lengthAdjust="spacing" stroke="#000" stroke-width="0.15">Relative mRNA level of C/EBPα</text>
<line x1="508.40" y1="561.60" x2="508.40" y2="679.50" stroke="#111" stroke-width="1.3"/>
<line x1="507.80" y1="678.90" x2="683.00" y2="678.90" stroke="#111" stroke-width="1.3"/>
<line x1="505.00" y1="678.90" x2="508.40" y2="678.90" stroke="#111" stroke-width="1.3"/>
<text x="504.70" y="681.90" font-family="Liberation Sans" font-size="8.6" font-weight="bold" stroke="#000" stroke-width="0.18" text-anchor="end" fill="#000" >0</text>
<line x1="505.00" y1="655.56" x2="508.40" y2="655.56" stroke="#111" stroke-width="1.3"/>
<text x="504.70" y="658.56" font-family="Liberation Sans" font-size="8.6" font-weight="bold" stroke="#000" stroke-width="0.18" text-anchor="end" fill="#000" >5</text>
<line x1="505.00" y1="632.22" x2="508.40" y2="632.22" stroke="#111" stroke-width="1.3"/>
<text x="504.70" y="635.22" font-family="Liberation Sans" font-size="8.6" font-weight="bold" stroke="#000" stroke-width="0.18" text-anchor="end" fill="#000" >10</text>
<line x1="505.00" y1="608.88" x2="508.40" y2="608.88" stroke="#111" stroke-width="1.3"/>
<text x="504.70" y="611.88" font-family="Liberation Sans" font-size="8.6" font-weight="bold" stroke="#000" stroke-width="0.18" text-anchor="end" fill="#000" >15</text>
<line x1="505.00" y1="585.54" x2="508.40" y2="585.54" stroke="#111" stroke-width="1.3"/>
<text x="504.70" y="588.54" font-family="Liberation Sans" font-size="8.6" font-weight="bold" stroke="#000" stroke-width="0.18" text-anchor="end" fill="#000" >20</text>
<line x1="505.00" y1="562.20" x2="508.40" y2="562.20" stroke="#111" stroke-width="1.3"/>
<text x="504.70" y="565.20" font-family="Liberation Sans" font-size="8.6" font-weight="bold" stroke="#000" stroke-width="0.18" text-anchor="end" fill="#000" >25</text>
<line x1="530.10" y1="678.90" x2="530.10" y2="682.50" stroke="#111" stroke-width="1.3"/>
<text transform="translate(533.50,691.00) rotate(-45)" font-family="Liberation Sans" font-size="8.7" font-weight="bold" stroke="#000" stroke-width="0.18" text-anchor="end">0h</text>
<line x1="573.70" y1="678.90" x2="573.70" y2="682.50" stroke="#111" stroke-width="1.3"/>
<text transform="translate(577.10,691.00) rotate(-45)" font-family="Liberation Sans" font-size="8.7" font-weight="bold" stroke="#000" stroke-width="0.18" text-anchor="end">24h</text>
<line x1="617.30" y1="678.90" x2="617.30" y2="682.50" stroke="#111" stroke-width="1.3"/>
<text transform="translate(620.70,691.00) rotate(-45)" font-family="Liberation Sans" font-size="8.7" font-weight="bold" stroke="#000" stroke-width="0.18" text-anchor="end">48h</text>
<line x1="660.90" y1="678.90" x2="660.90" y2="682.50" stroke="#111" stroke-width="1.3"/>
<text transform="translate(664.30,691.00) rotate(-45)" font-family="Liberation Sans" font-size="8.7" font-weight="bold" stroke="#000" stroke-width="0.18" text-anchor="end">72h</text>
<polyline points="530.10,674.42 573.70,650.71 617.30,607.95 660.90,581.11" fill="none" stroke="#111" stroke-width="1.2"/>
<polyline points="530.10,676.38 573.70,669.19 617.30,646.69 660.90,636.89" fill="none" stroke="#111" stroke-width="1.2"/>
<circle cx="530.10" cy="674.42" r="2.3" fill="#000"/>
<circle cx="573.70" cy="650.71" r="2.3" fill="#000"/>
<circle cx="617.30" cy="607.95" r="2.3" fill="#000"/>
<circle cx="660.90" cy="581.11" r="2.3" fill="#000"/>
<rect x="527.90" y="674.18" width="4.40" height="4.40" fill="#000"/>
<rect x="571.50" y="666.99" width="4.40" height="4.40" fill="#000"/>
<rect x="615.10" y="644.49" width="4.40" height="4.40" fill="#000"/>
<rect x="658.70" y="634.69" width="4.40" height="4.40" fill="#000"/>
<path d="M530.90,664.70l0.00,-2.45M530.90,664.70l2.33,-0.76M530.90,664.70l1.44,1.98M530.90,664.70l-1.44,1.98M530.90,664.70l-2.33,-0.76" stroke="#111" stroke-width="1.12" stroke-linecap="butt" fill="none"/>
<path d="M571.55,660.30l0.00,-2.45M571.55,660.30l2.33,-0.76M571.55,660.30l1.44,1.98M571.55,660.30l-1.44,1.98M571.55,660.30l-2.33,-0.76M577.45,660.30l0.00,-2.45M577.45,660.30l2.33,-0.76M577.45,660.30l1.44,1.98M577.45,660.30l-1.44,1.98M577.45,660.30l-2.33,-0.76" stroke="#111" stroke-width="1.12" stroke-linecap="butt" fill="none"/>
<path d="M615.15,632.80l0.00,-2.45M615.15,632.80l2.33,-0.76M615.15,632.80l1.44,1.98M615.15,632.80l-1.44,1.98M615.15,632.80l-2.33,-0.76M621.05,632.80l0.00,-2.45M621.05,632.80l2.33,-0.76M621.05,632.80l1.44,1.98M621.05,632.80l-1.44,1.98M621.05,632.80l-2.33,-0.76" stroke="#111" stroke-width="1.12" stroke-linecap="butt" fill="none"/>
<path d="M658.75,622.90l0.00,-2.45M658.75,622.90l2.33,-0.76M658.75,622.90l1.44,1.98M658.75,622.90l-1.44,1.98M658.75,622.90l-2.33,-0.76M664.65,622.90l0.00,-2.45M664.65,622.90l2.33,-0.76M664.65,622.90l1.44,1.98M664.65,622.90l-1.44,1.98M664.65,622.90l-2.33,-0.76" stroke="#111" stroke-width="1.12" stroke-linecap="butt" fill="none"/>
<line x1="522.70" y1="568.40" x2="535.30" y2="568.40" stroke="#111" stroke-width="1.2"/>
<circle cx="529.00" cy="568.4" r="2.3" fill="#000"/>
<line x1="522.70" y1="581.80" x2="535.30" y2="581.80" stroke="#111" stroke-width="1.2"/>
<rect x="526.80" y="579.60" width="4.40" height="4.40" fill="#000"/>
<text x="542.30" y="571.40" font-family="Liberation Sans" font-size="8.6" text-anchor="start" fill="#000" >Control</text>
<text x="542.30" y="584.80" font-family="Liberation Sans" font-size="8.6" text-anchor="start" fill="#000" >Knockdown</text>
<text transform="translate(485.00,620.50) rotate(-90)" font-family="Liberation Sans" font-size="10.2" font-weight="bold" text-anchor="middle" textLength="158" lengthAdjust="spacing" stroke="#000" stroke-width="0.15">Relative mRNA level of adiponectin</text>
</svg></body></html>
